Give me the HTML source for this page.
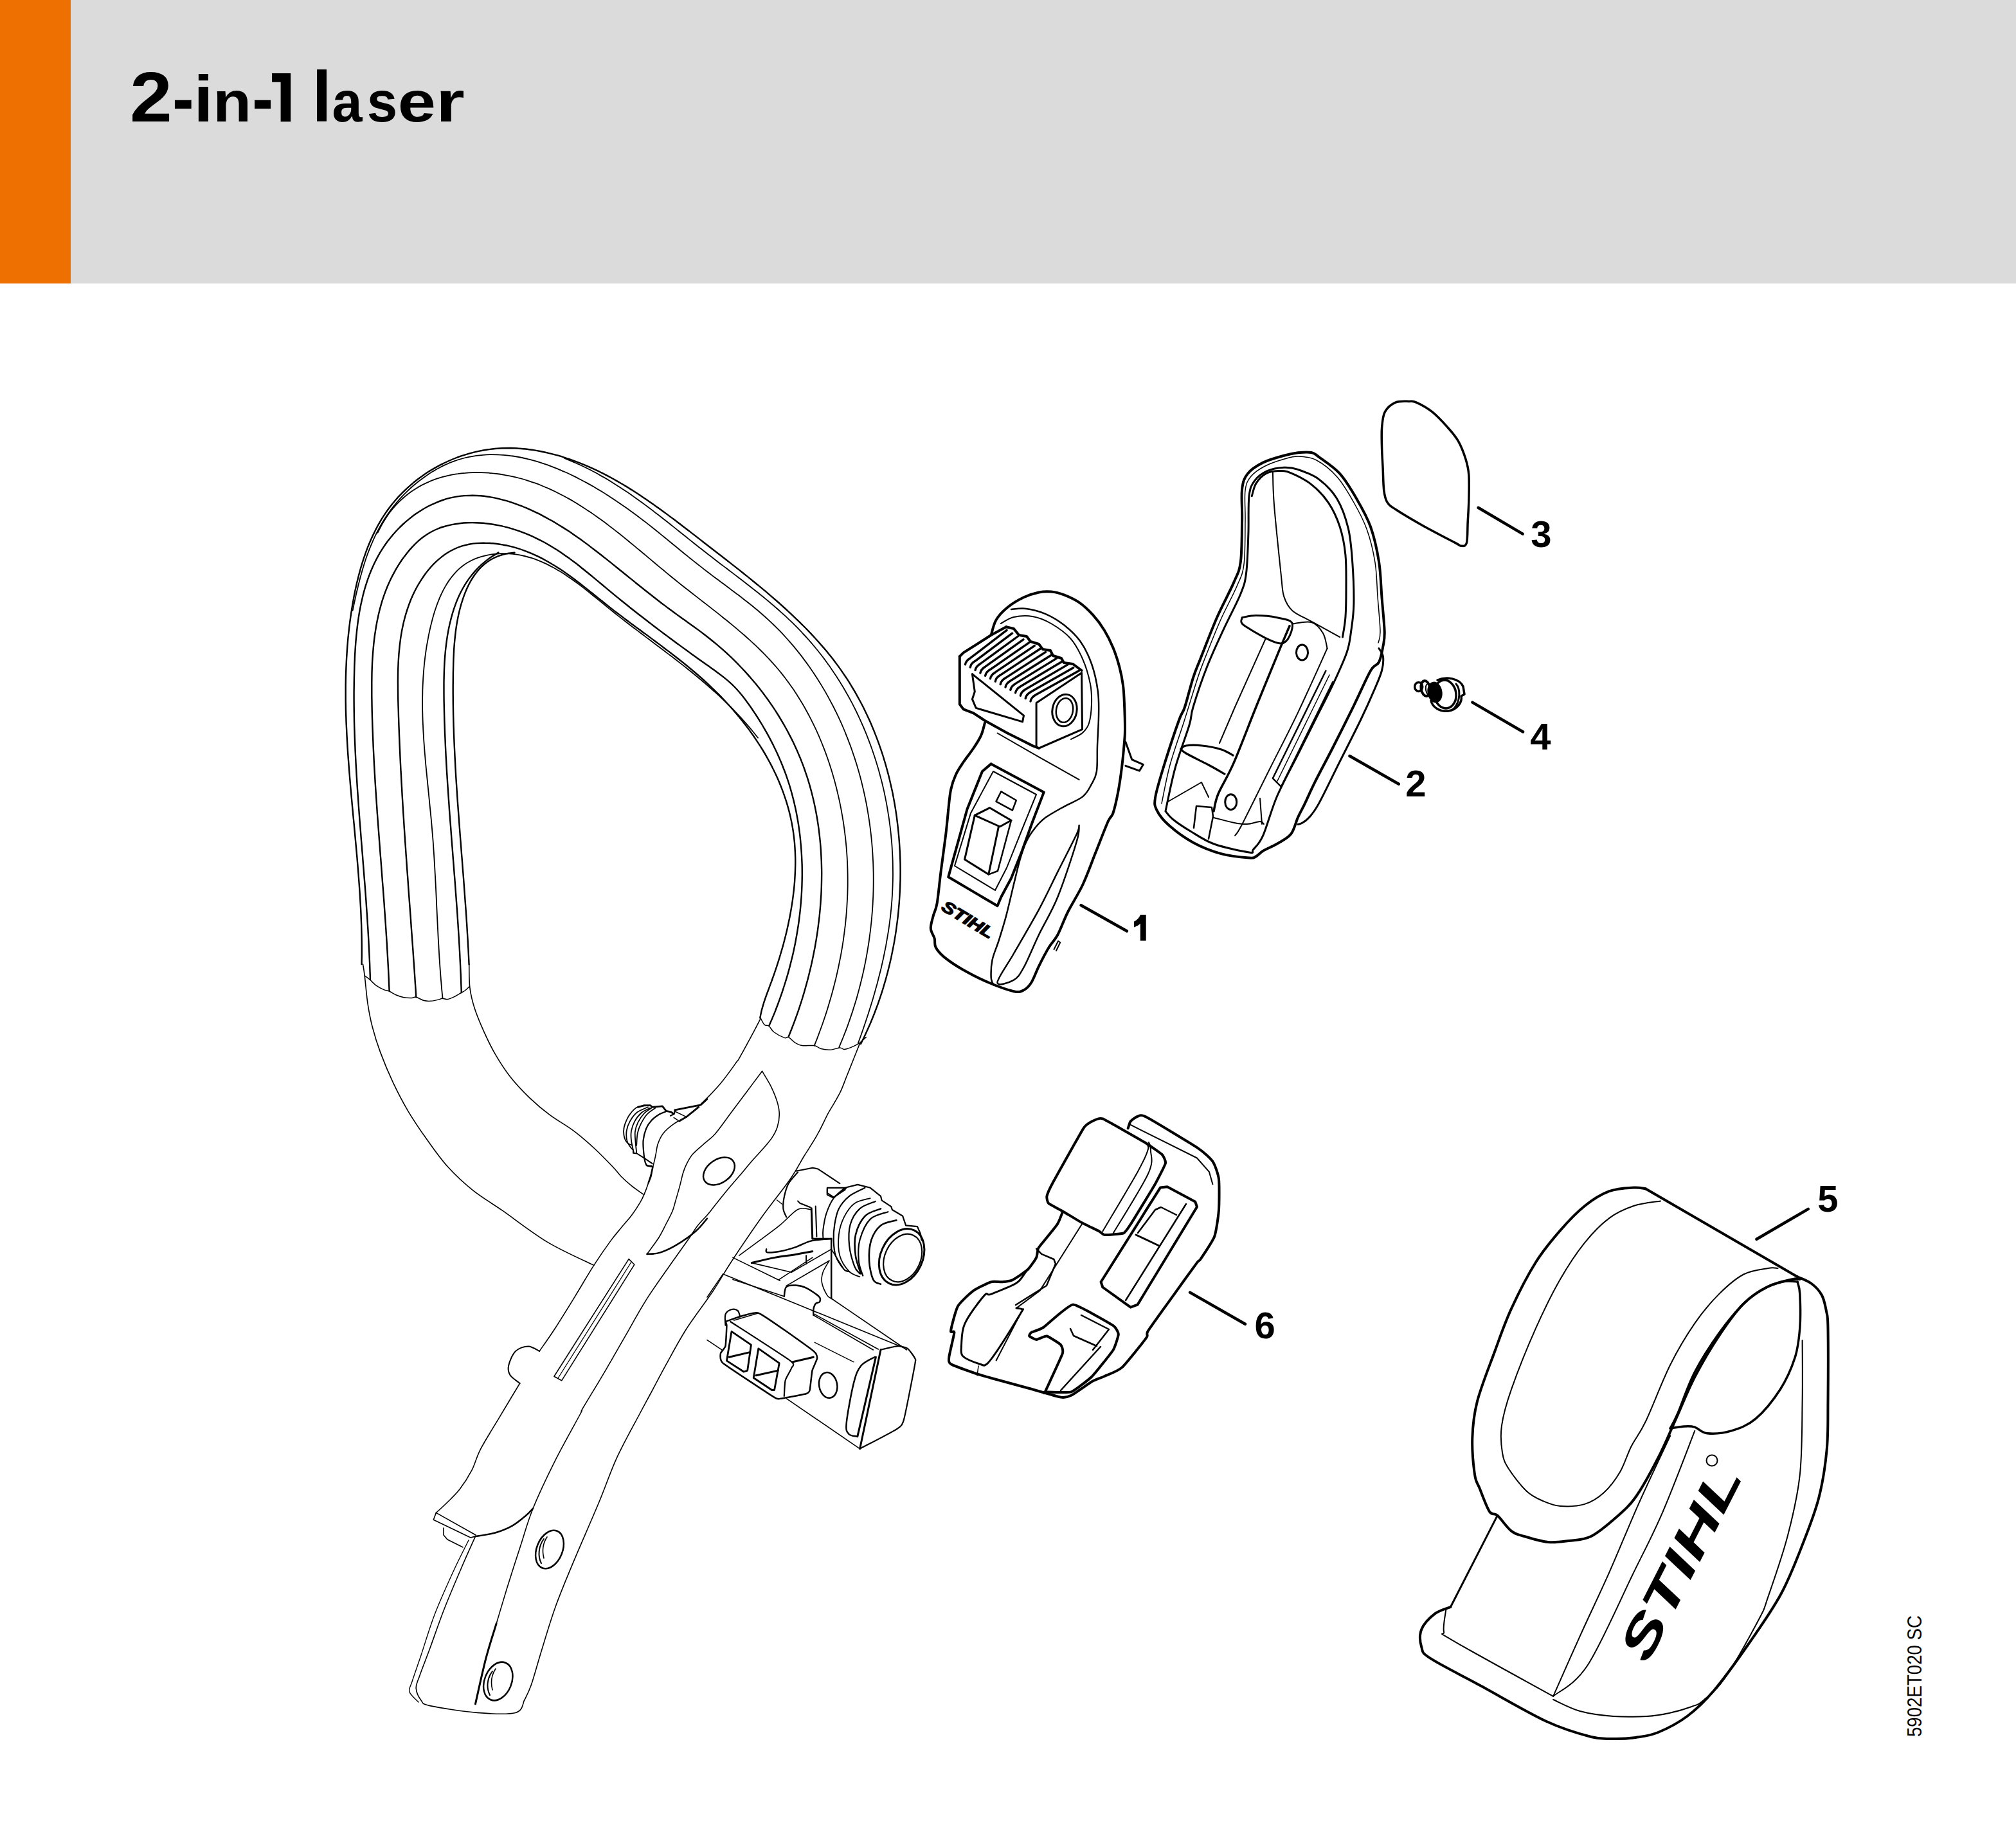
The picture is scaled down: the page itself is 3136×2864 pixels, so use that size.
<!DOCTYPE html>
<html><head><meta charset="utf-8"><style>
html,body{margin:0;padding:0;background:#fff;width:3136px;height:2864px;overflow:hidden;}
#hdr{position:absolute;left:0;top:0;width:3136px;height:441px;background:#dadbda;}
#bar{position:absolute;left:0;top:0;width:110px;height:441px;background:#ed7000;}
#title{position:absolute;left:203px;top:81px;font-family:"Liberation Sans",sans-serif;font-weight:bold;font-size:111px;line-height:140px;transform:scaleX(0.89);color:#000;white-space:nowrap;transform-origin:0 0;}
svg{position:absolute;left:0;top:0;}
.lbl{font-family:"Liberation Sans",sans-serif;font-weight:bold;}
</style></head><body>
<div id="hdr"></div><div id="bar"></div>

<svg width="3136" height="2864" viewBox="0 0 3136 2864" xmlns="http://www.w3.org/2000/svg" fill="none" stroke="#000" stroke-linecap="round" stroke-linejoin="round">
<!-- 05_title.py -->
<path d="M423.1 113.9H452.2V189.2H436.6V127.8H423.1Z" fill="#000" stroke="none"/>
<g font-family="Liberation Sans" font-weight="bold" fill="#000" stroke="none" aria-label="2-in-1 laser"><text transform="matrix(1.1840 0 0 1.0946 202.11 189.20)" font-size="100">2</text><text transform="matrix(1.0118 0 0 1.1092 267.95 191.28)" font-size="100">-</text><text transform="matrix(1.0949 0 0 1.0193 301.34 189.20)" font-size="100">i</text><text transform="matrix(0.9793 0 0 0.8887 331.14 189.20)" font-size="100">n</text><text transform="matrix(0.9843 0 0 1.1092 392.16 191.28)" font-size="100">-</text><text transform="matrix(1.0876 0 0 1.1062 485.59 189.20)" font-size="100">l</text><text transform="matrix(0.8462 0 0 0.8942 516.45 189.41)" font-size="100">a</text><text transform="matrix(0.8531 0 0 0.8925 570.76 189.41)" font-size="100">s</text><text transform="matrix(1.0642 0 0 0.8942 618.65 189.41)" font-size="100">e</text><text transform="matrix(1.1494 0 0 0.8942 678.11 189.20)" font-size="100">r</text></g>
<!-- 10_grip.py -->
<path d="M562.6 1500C562.6 1498 562.7 1491.9 562.8 1487.9C562.8 1483.9 562.8 1479.9 562.8 1475.9C562.8 1471.9 562.8 1467.8 562.7 1463.8C562.7 1459.8 562.6 1455.8 562.5 1451.8C562.4 1447.8 562.3 1443.7 562.2 1439.7C562 1435.7 561.9 1431.7 561.7 1427.7C561.6 1423.7 561.4 1419.6 561.2 1415.6C561 1411.6 560.8 1407.6 560.5 1403.6C560.3 1399.6 560.1 1395.6 559.8 1391.5C559.6 1387.5 559.3 1383.5 559 1379.5C558.7 1375.5 558.4 1371.5 558.1 1367.5C557.8 1363.5 557.5 1359.4 557.2 1355.4C556.9 1351.4 556.5 1347.4 556.2 1343.4C555.9 1339.4 555.5 1335.4 555.2 1331.4C554.8 1327.3 554.5 1323.3 554.1 1319.3C553.7 1315.3 553.4 1311.3 553 1307.3C552.6 1303.3 552.3 1299.3 551.9 1295.2C551.5 1291.2 551.1 1287.2 550.8 1283.2C550.4 1279.2 550 1275.2 549.6 1271.2C549.2 1267.2 548.9 1263.2 548.5 1259.1C548.1 1255.1 547.7 1251.1 547.4 1247.1C547 1243.1 546.6 1239.1 546.3 1235.1C545.9 1231.1 545.6 1227 545.2 1223C544.9 1219 544.5 1215 544.2 1211C543.9 1207 543.5 1203 543.2 1199C542.9 1194.9 542.6 1190.9 542.3 1186.9C542 1182.9 541.7 1178.9 541.4 1174.9C541.1 1170.9 540.9 1166.9 540.6 1162.8C540.4 1158.8 540.1 1154.8 539.9 1150.8C539.7 1146.8 539.4 1142.8 539.3 1138.7C539.1 1134.7 538.9 1130.7 538.7 1126.7C538.5 1122.7 538.4 1118.7 538.3 1114.7C538.1 1110.6 538 1106.6 537.9 1102.6C537.9 1098.6 537.8 1094.6 537.7 1090.5C537.7 1086.5 537.7 1082.5 537.7 1078.5C537.7 1074.5 537.7 1070.5 537.7 1066.4C537.8 1062.4 537.8 1058.4 537.9 1054.4C538 1050.4 538.1 1046.3 538.3 1042.3C538.4 1038.3 538.6 1034.3 538.8 1030.2C539 1026.2 539.2 1022.2 539.5 1018.2C539.7 1014.2 540 1010.1 540.3 1006.1C540.6 1002.1 541 998.1 541.3 994C541.7 990 542.1 986 542.6 981.9C543 977.9 543.5 973.9 544 969.9C544.5 965.8 545.1 961.8 545.7 957.8C546.2 953.7 546.9 949.7 547.5 945.7C548.2 941.7 548.9 937.6 549.6 933.6C550.3 929.6 551.1 925.5 551.9 921.5C552.7 917.5 553.6 913.5 554.5 909.5C555.4 905.5 556.4 901.5 557.4 897.5C558.4 893.5 559.5 889.6 560.6 885.6C561.7 881.7 562.9 877.8 564.1 873.9C565.3 870 566.6 866.2 568 862.3C569.3 858.5 570.7 854.7 572.2 850.9C573.7 847.2 575.3 843.5 576.9 839.8C578.5 836.1 580.2 832.5 582 828.9C583.7 825.3 585.5 821.7 587.5 818.2C589.4 814.7 591.4 811.3 593.4 807.9C595.5 804.5 597.7 801.2 599.9 797.9C602.1 794.6 604.5 791.4 606.9 788.3C609.3 785.1 611.8 782 614.4 779C617 776 619.6 773 622.4 770.2C625.1 767.3 627.9 764.5 630.8 761.8C633.7 759 636.6 756.4 639.7 753.8C642.7 751.2 645.8 748.7 648.9 746.3C652.1 743.8 655.3 741.5 658.6 739.2C661.9 736.9 665.2 734.7 668.6 732.6C672 730.5 675.4 728.5 678.9 726.6C682.4 724.6 686 722.8 689.5 721C693.1 719.3 696.8 717.6 700.4 716C704.1 714.4 707.8 712.9 711.5 711.5C715.3 710.2 719.1 708.9 722.9 707.7C726.7 706.5 730.5 705.3 734.4 704.3C738.2 703.3 742.1 702.4 746 701.6C750 700.8 753.9 700.1 757.8 699.5C761.8 698.9 765.7 698.4 769.7 698C773.7 697.7 777.7 697.4 781.7 697.2C785.7 697.1 789.7 697 793.7 697C797.7 697.1 801.7 697.2 805.7 697.5C809.7 697.7 813.7 698.1 817.7 698.5C821.7 699 825.7 699.5 829.7 700.1C833.7 700.7 837.6 701.4 841.6 702.2C845.6 703 849.5 703.8 853.4 704.8C857.4 705.7 861.3 706.7 865.2 707.8C869 708.9 872.9 710 876.8 711.3C880.6 712.5 884.4 713.7 888.2 715.1C892 716.4 895.7 717.8 899.5 719.3C903.2 720.7 906.9 722.2 910.6 723.8C914.2 725.3 917.9 726.9 921.5 728.6C925.1 730.3 928.7 732 932.3 733.7C935.9 735.5 939.4 737.3 943 739.1C946.5 741 950 742.9 953.5 744.8C957 746.8 960.5 748.7 963.9 750.7C967.4 752.8 970.8 754.8 974.3 756.9C977.7 759 981.1 761.1 984.5 763.3C987.8 765.4 991.2 767.6 994.6 769.8C997.9 772 1001.3 774.3 1004.6 776.5C1007.9 778.8 1011.3 781.1 1014.6 783.4C1017.9 785.8 1021.2 788.1 1024.5 790.5C1027.8 792.8 1031 795.2 1034.3 797.6C1037.6 800 1040.9 802.4 1044.1 804.9C1047.4 807.3 1050.6 809.8 1053.9 812.2C1057.1 814.7 1060.4 817.2 1063.6 819.7C1066.8 822.1 1070.1 824.6 1073.3 827.1C1076.5 829.6 1079.8 832.1 1083 834.6C1086.2 837.2 1089.5 839.7 1092.7 842.2C1095.9 844.7 1099.2 847.2 1102.4 849.7C1105.6 852.2 1108.9 854.7 1112.1 857.2C1115.3 859.7 1118.6 862.3 1121.8 864.8C1125 867.3 1128.3 869.8 1131.5 872.3C1134.7 874.8 1138 877.3 1141.2 879.9C1144.4 882.4 1147.6 884.9 1150.8 887.4C1154 890 1157.2 892.5 1160.4 895.1C1163.6 897.6 1166.7 900.2 1169.9 902.7C1173.1 905.3 1176.2 907.9 1179.3 910.4C1182.5 913 1185.6 915.6 1188.7 918.2C1191.8 920.8 1194.9 923.4 1198 926.1C1201.1 928.7 1204.1 931.3 1207.2 934C1210.2 936.6 1213.2 939.3 1216.2 942C1219.2 944.7 1222.2 947.4 1225.1 950.1C1228.1 952.8 1231 955.5 1233.9 958.3C1236.8 961 1239.7 963.8 1242.6 966.6C1245.4 969.4 1248.3 972.2 1251.1 975C1253.9 977.8 1256.6 980.7 1259.4 983.6C1262.1 986.4 1264.8 989.3 1267.5 992.2C1270.2 995.2 1272.8 998.1 1275.4 1001.1C1278 1004 1280.6 1007 1283.2 1010C1285.7 1013.1 1288.2 1016.1 1290.7 1019.2C1293.1 1022.2 1295.6 1025.3 1298 1028.5C1300.4 1031.6 1302.7 1034.8 1305 1037.9C1307.3 1041.1 1309.6 1044.4 1311.8 1047.6C1314 1050.9 1316.2 1054.1 1318.4 1057.4C1320.5 1060.8 1322.6 1064.1 1324.6 1067.5C1326.7 1070.8 1328.7 1074.2 1330.7 1077.7C1332.6 1081.1 1334.6 1084.5 1336.4 1088C1338.3 1091.5 1340.2 1095 1342 1098.5C1343.8 1102.1 1345.5 1105.6 1347.2 1109.2C1349 1112.8 1350.6 1116.4 1352.3 1120C1353.9 1123.7 1355.5 1127.3 1357 1131C1358.6 1134.7 1360.1 1138.4 1361.5 1142.1C1363 1145.8 1364.4 1149.5 1365.8 1153.3C1367.2 1157 1368.5 1160.8 1369.8 1164.6C1371.1 1168.4 1372.4 1172.2 1373.6 1176C1374.8 1179.9 1375.9 1183.7 1377.1 1187.6C1378.2 1191.4 1379.3 1195.3 1380.3 1199.2C1381.4 1203.1 1382.4 1207 1383.4 1211C1384.3 1214.9 1385.2 1218.8 1386.1 1222.8C1387 1226.7 1387.9 1230.7 1388.7 1234.6C1389.5 1238.6 1390.2 1242.6 1390.9 1246.6C1391.7 1250.6 1392.3 1254.6 1393 1258.6C1393.6 1262.6 1394.2 1266.7 1394.8 1270.7C1395.3 1274.7 1395.8 1278.8 1396.3 1282.8C1396.8 1286.9 1397.2 1290.9 1397.6 1295C1398 1299 1398.4 1303.1 1398.7 1307.2C1399 1311.2 1399.3 1315.3 1399.5 1319.4C1399.8 1323.5 1400 1327.5 1400.1 1331.6C1400.3 1335.7 1400.4 1339.8 1400.5 1343.9C1400.5 1348 1400.6 1352.1 1400.6 1356.1C1400.6 1360.2 1400.5 1364.3 1400.5 1368.4C1400.4 1372.5 1400.2 1376.6 1400.1 1380.7C1399.9 1384.7 1399.7 1388.8 1399.5 1392.9C1399.2 1397 1399 1401 1398.7 1405.1C1398.3 1409.2 1398 1413.2 1397.6 1417.3C1397.2 1421.3 1396.8 1425.4 1396.3 1429.4C1395.8 1433.5 1395.3 1437.5 1394.7 1441.6C1394.2 1445.6 1393.6 1449.6 1393 1453.6C1392.3 1457.6 1391.7 1461.6 1391 1465.6C1390.3 1469.6 1389.5 1473.6 1388.7 1477.6C1388 1481.5 1387.1 1485.5 1386.3 1489.4C1385.4 1493.4 1384.5 1497.3 1383.6 1501.2C1382.6 1505.1 1381.7 1509 1380.7 1512.9C1379.6 1516.8 1378.6 1520.7 1377.5 1524.6C1376.4 1528.4 1375.3 1532.3 1374.1 1536.1C1373 1539.9 1371.8 1543.7 1370.5 1547.5C1369.3 1551.3 1368 1555 1366.7 1558.8C1365.4 1562.5 1364 1566.3 1362.6 1570C1361.3 1573.7 1359.8 1577.4 1358.4 1581C1356.9 1584.7 1355.4 1588.4 1353.9 1592C1352.3 1595.6 1350.7 1599.2 1349.1 1602.8C1347.5 1606.3 1345.9 1609.9 1344.2 1613.4C1342.5 1616.9 1339.9 1622.1 1339 1623.9" stroke-width="2.4" fill="none"/>
<path d="M548.6 949.8C549.1 947.9 550.3 941.9 551.1 937.9C552 934 552.8 930 553.7 926.1C554.6 922.1 555.5 918.2 556.5 914.2C557.4 910.3 558.4 906.4 559.4 902.5C560.4 898.6 561.5 894.7 562.6 890.8C563.7 886.9 564.8 883 566 879.2C567.2 875.4 568.4 871.5 569.7 867.7C571.1 863.9 572.4 860.2 573.9 856.4C575.3 852.7 576.8 848.9 578.4 845.3C580 841.6 581.6 837.9 583.3 834.3C585.1 830.7 586.9 827.1 588.8 823.5C590.7 819.9 592.7 816.4 594.7 812.9C596.8 809.5 599 806 601.3 802.6C603.6 799.2 605.9 795.9 608.4 792.6C610.9 789.3 613.5 786 616.2 782.8C618.9 779.6 621.7 776.5 624.5 773.4C627.4 770.3 630.4 767.3 633.4 764.4C636.4 761.5 639.5 758.6 642.7 755.8C645.9 753.1 649.2 750.4 652.5 747.8C655.8 745.2 659.2 742.8 662.6 740.4C666 738 669.5 735.7 673 733.6C676.6 731.5 680.1 729.4 683.8 727.5C687.4 725.6 691 723.8 694.7 722.2C698.3 720.5 702 719 705.8 717.7C709.5 716.3 713.2 715.1 717 714C720.7 712.9 724.5 712 728.3 711.2C732.1 710.4 735.9 709.7 739.7 709.1C743.5 708.6 747.3 708.1 751.2 707.8C755 707.5 758.9 707.3 762.7 707.2C766.6 707.2 770.4 707.2 774.3 707.3C778.2 707.5 782.1 707.8 786 708.1C789.8 708.5 793.7 709 797.6 709.5C801.5 710.1 805.4 710.8 809.3 711.5C813.2 712.3 817.1 713.1 821 714.1C824.9 715 828.8 716.1 832.6 717.2C836.5 718.3 840.4 719.5 844.3 720.8C848.1 722.1 852 723.4 855.8 724.8C859.7 726.3 863.5 727.8 867.4 729.3C871.2 730.9 875 732.6 878.8 734.3C882.6 736 886.4 737.7 890.2 739.5C894 741.4 897.7 743.2 901.4 745.2C905.2 747.1 908.9 749.1 912.6 751.1C916.3 753.1 920 755.2 923.6 757.3C927.3 759.5 930.9 761.6 934.5 763.8C938.1 766 941.7 768.2 945.2 770.5C948.8 772.8 952.3 775.1 955.8 777.4C959.2 779.7 962.7 782 966.1 784.4C969.5 786.8 972.9 789.1 976.3 791.5C979.6 793.9 983 796.4 986.2 798.8C989.5 801.2 992.8 803.6 996 806.1C999.2 808.5 1002.4 811 1005.6 813.4C1008.7 815.9 1011.9 818.4 1015 820.8C1018.1 823.3 1021.2 825.8 1024.3 828.3C1027.4 830.8 1030.4 833.3 1033.5 835.7C1036.6 838.2 1039.6 840.7 1042.6 843.2C1045.7 845.7 1048.7 848.2 1051.8 850.7C1054.8 853.2 1057.9 855.7 1060.9 858.2C1063.9 860.7 1067 863.2 1070.1 865.6C1073.1 868.1 1076.2 870.6 1079.3 873.1C1082.4 875.5 1085.5 878 1088.6 880.4C1091.7 882.9 1094.9 885.3 1098 887.8C1101.2 890.2 1104.4 892.6 1107.6 895.1C1110.8 897.5 1114.1 899.9 1117.3 902.3C1120.5 904.7 1123.8 907.2 1127.1 909.6C1130.3 912 1133.6 914.4 1136.8 916.9C1140.1 919.3 1143.4 921.8 1146.6 924.3C1149.9 926.7 1153.1 929.2 1156.3 931.7C1159.6 934.2 1162.8 936.7 1166 939.3C1169.2 941.8 1172.4 944.4 1175.5 947C1178.7 949.6 1181.8 952.3 1184.9 955C1187.9 957.6 1191 960.3 1194 963.1C1197 965.9 1200 968.7 1202.9 971.5C1205.9 974.3 1208.7 977.2 1211.6 980.1C1214.4 983 1217.3 986 1220 989C1222.8 992 1225.5 995 1228.2 998.1C1230.9 1001.1 1233.5 1004.2 1236.1 1007.4C1238.7 1010.5 1241.3 1013.7 1243.8 1016.9C1246.3 1020.1 1248.8 1023.3 1251.2 1026.6C1253.7 1029.8 1256 1033.1 1258.4 1036.5C1260.7 1039.8 1263.1 1043.1 1265.3 1046.5C1267.6 1049.9 1269.8 1053.3 1272 1056.7C1274.2 1060.2 1276.3 1063.6 1278.4 1067.1C1280.5 1070.6 1282.6 1074.1 1284.6 1077.6C1286.6 1081.1 1288.6 1084.7 1290.5 1088.3C1292.4 1091.8 1294.3 1095.4 1296.2 1099C1298 1102.7 1299.8 1106.3 1301.6 1109.9C1303.4 1113.6 1305.1 1117.3 1306.8 1120.9C1308.4 1124.6 1310.1 1128.3 1311.7 1132C1313.3 1135.8 1314.8 1139.5 1316.3 1143.3C1317.8 1147 1319.3 1150.8 1320.7 1154.6C1322.2 1158.3 1323.6 1162.1 1324.9 1166C1326.2 1169.8 1327.5 1173.6 1328.8 1177.4C1330.1 1181.3 1331.3 1185.1 1332.5 1189C1333.7 1192.9 1334.8 1196.7 1335.9 1200.6C1337 1204.5 1338.1 1208.4 1339.1 1212.3C1340.1 1216.2 1341.1 1220.2 1342 1224.1C1343 1228 1343.9 1232 1344.7 1235.9C1345.6 1239.9 1346.4 1243.9 1347.2 1247.8C1348 1251.8 1348.7 1255.8 1349.4 1259.8C1350.1 1263.8 1350.7 1267.8 1351.4 1271.8C1352 1275.8 1352.6 1279.8 1353.1 1283.8C1353.6 1287.8 1354.2 1291.8 1354.6 1295.9C1355.1 1299.9 1355.5 1303.9 1355.9 1308C1356.3 1312 1356.6 1316 1356.9 1320.1C1357.2 1324.1 1357.5 1328.2 1357.7 1332.2C1357.9 1336.3 1358.1 1340.3 1358.3 1344.4C1358.4 1348.5 1358.5 1352.5 1358.6 1356.6C1358.7 1360.7 1358.7 1364.7 1358.7 1368.8C1358.7 1372.8 1358.7 1376.9 1358.6 1381C1358.5 1385 1358.4 1389.1 1358.3 1393.2C1358.1 1397.2 1357.9 1401.3 1357.7 1405.4C1357.5 1409.4 1357.2 1413.5 1356.9 1417.5C1356.6 1421.6 1356.2 1425.6 1355.9 1429.7C1355.5 1433.7 1355.1 1437.8 1354.6 1441.8C1354.2 1445.9 1353.7 1449.9 1353.1 1453.9C1352.6 1458 1352.1 1462 1351.5 1466C1350.9 1470 1350.2 1474.1 1349.5 1478.1C1348.9 1482.1 1348.2 1486.1 1347.4 1490.1C1346.7 1494.1 1345.9 1498.1 1345.1 1502C1344.2 1506 1343.4 1510 1342.5 1514C1341.6 1517.9 1340.7 1521.9 1339.7 1525.8C1338.8 1529.8 1337.8 1533.7 1336.7 1537.6C1335.7 1541.5 1334.6 1545.5 1333.5 1549.4C1332.4 1553.3 1331.3 1557.2 1330.1 1561C1328.9 1564.9 1327.7 1568.8 1326.5 1572.6C1325.2 1576.5 1323.9 1580.3 1322.6 1584.1C1321.3 1588 1319.9 1591.8 1318.6 1595.6C1317.2 1599.4 1315.8 1603.1 1314.3 1606.9C1312.8 1610.7 1311.4 1614.4 1309.8 1618.2C1308.3 1621.9 1305.9 1627.5 1305.2 1629.3" stroke-width="1.8" fill="none"/>
<path d="M587.6 828.7C588.7 826.6 591.8 820.1 594.1 816C596.4 812 598.8 808.1 601.2 804.4C603.7 800.7 606.3 797.2 609 793.8C611.7 790.4 614.5 787.2 617.4 784.2C620.2 781.1 623.2 778.2 626.3 775.5C629.3 772.8 632.5 770.2 635.7 767.7C638.9 765.3 642.2 763 645.6 760.9C648.9 758.8 652.3 756.8 655.8 754.9C659.3 753.1 662.9 751.3 666.5 749.8C670.1 748.2 673.8 746.7 677.5 745.4C681.2 744.1 685 743 688.8 741.9C692.6 740.8 696.5 739.9 700.3 739.1C704.2 738.3 708.1 737.6 712.1 737.1C716 736.5 720 736.1 724 735.8C728 735.4 732 735.2 736 735.1C740 735 744.1 735 748.1 735.1C752.2 735.2 756.2 735.4 760.3 735.7C764.3 736.1 768.4 736.5 772.4 737C776.4 737.5 780.5 738.1 784.5 738.8C788.5 739.5 792.5 740.3 796.5 741.1C800.4 742 804.4 743 808.3 744C812.2 745 816.1 746.2 820 747.4C823.8 748.6 827.7 749.8 831.4 751.2C835.2 752.5 839 754 842.7 755.5C846.4 757 850.1 758.5 853.7 760.1C857.4 761.8 861 763.5 864.6 765.2C868.2 767 871.8 768.8 875.3 770.7C878.8 772.5 882.3 774.5 885.8 776.4C889.3 778.4 892.8 780.5 896.2 782.5C899.6 784.6 903 786.8 906.4 788.9C909.8 791.1 913.2 793.3 916.5 795.6C919.9 797.8 923.2 800.2 926.5 802.5C929.8 804.8 933.1 807.2 936.4 809.6C939.7 812 943 814.4 946.2 816.9C949.5 819.4 952.7 821.9 955.9 824.4C959.2 826.9 962.4 829.5 965.6 832C968.8 834.6 972 837.2 975.2 839.8C978.4 842.4 981.5 845 984.7 847.6C987.9 850.2 991.1 852.9 994.2 855.5C997.4 858.1 1000.6 860.8 1003.7 863.4C1006.9 866.1 1010.1 868.8 1013.2 871.4C1016.4 874.1 1019.6 876.7 1022.7 879.4C1025.9 882 1029.1 884.7 1032.3 887.3C1035.4 889.9 1038.6 892.6 1041.8 895.2C1045 897.8 1048.2 900.4 1051.4 903C1054.6 905.6 1057.8 908.1 1061 910.7C1064.2 913.3 1067.5 915.8 1070.7 918.3C1073.9 920.9 1077.1 923.4 1080.4 925.9C1083.6 928.4 1086.8 930.9 1090 933.4C1093.3 935.9 1096.5 938.4 1099.7 940.9C1102.9 943.4 1106.1 945.9 1109.3 948.4C1112.5 950.9 1115.7 953.4 1118.8 955.9C1122 958.5 1125.2 961 1128.3 963.5C1131.4 966 1134.6 968.6 1137.7 971.1C1140.8 973.7 1143.9 976.3 1146.9 978.9C1150 981.4 1153 984.1 1156.1 986.7C1159.1 989.3 1162.1 992 1165 994.6C1168 997.3 1170.9 1000 1173.8 1002.7C1176.7 1005.4 1179.6 1008.2 1182.4 1011C1185.3 1013.8 1188.1 1016.6 1190.8 1019.4C1193.6 1022.3 1196.3 1025.2 1199 1028.1C1201.7 1031 1204.3 1034 1206.9 1037C1209.5 1040 1212.1 1043 1214.6 1046.1C1217.1 1049.2 1219.5 1052.3 1221.9 1055.5C1224.3 1058.7 1226.7 1061.9 1229 1065.2C1231.4 1068.4 1233.6 1071.7 1235.9 1075C1238.1 1078.4 1240.3 1081.7 1242.4 1085.2C1244.5 1088.6 1246.6 1092 1248.7 1095.5C1250.7 1099 1252.7 1102.5 1254.6 1106C1256.6 1109.6 1258.5 1113.1 1260.4 1116.8C1262.2 1120.4 1264 1124 1265.8 1127.7C1267.6 1131.3 1269.3 1135 1271 1138.7C1272.7 1142.5 1274.3 1146.2 1275.9 1150C1277.5 1153.7 1279 1157.5 1280.5 1161.4C1282 1165.2 1283.5 1169 1284.9 1172.9C1286.3 1176.7 1287.6 1180.6 1289 1184.5C1290.3 1188.4 1291.5 1192.3 1292.8 1196.3C1294 1200.2 1295.2 1204.1 1296.3 1208.1C1297.5 1212.1 1298.6 1216.1 1299.6 1220C1300.7 1224 1301.7 1228 1302.6 1232.1C1303.6 1236.1 1304.5 1240.1 1305.4 1244.1C1306.3 1248.2 1307.1 1252.2 1307.9 1256.3C1308.7 1260.3 1309.4 1264.4 1310.1 1268.4C1310.8 1272.5 1311.5 1276.6 1312.1 1280.6C1312.7 1284.7 1313.3 1288.8 1313.8 1292.8C1314.3 1296.9 1314.8 1301 1315.3 1305C1315.7 1309.1 1316.1 1313.2 1316.5 1317.3C1316.8 1321.3 1317.1 1325.4 1317.4 1329.5C1317.7 1333.5 1317.9 1337.6 1318.1 1341.7C1318.3 1345.7 1318.4 1349.8 1318.5 1353.9C1318.6 1357.9 1318.7 1362 1318.7 1366.1C1318.7 1370.1 1318.7 1374.2 1318.7 1378.2C1318.6 1382.3 1318.5 1386.3 1318.4 1390.4C1318.2 1394.5 1318.1 1398.5 1317.8 1402.5C1317.6 1406.6 1317.4 1410.6 1317.1 1414.7C1316.8 1418.7 1316.5 1422.7 1316.1 1426.8C1315.7 1430.8 1315.3 1434.8 1314.9 1438.8C1314.4 1442.9 1313.9 1446.9 1313.4 1450.9C1312.9 1454.9 1312.3 1458.9 1311.8 1462.9C1311.2 1466.9 1310.5 1470.9 1309.9 1474.9C1309.2 1478.9 1308.5 1482.9 1307.8 1486.9C1307 1490.8 1306.2 1494.8 1305.4 1498.8C1304.6 1502.7 1303.8 1506.7 1302.9 1510.6C1302 1514.6 1301.1 1518.5 1300.2 1522.5C1299.2 1526.4 1298.2 1530.4 1297.2 1534.3C1296.2 1538.2 1295.2 1542.1 1294.1 1546C1293 1549.9 1291.9 1553.8 1290.7 1557.7C1289.6 1561.6 1288.4 1565.5 1287.2 1569.4C1286 1573.3 1284.8 1577.1 1283.5 1581C1282.2 1584.8 1280.9 1588.7 1279.6 1592.5C1278.2 1596.4 1276.8 1600.2 1275.4 1604C1274 1607.8 1272.6 1611.6 1271.2 1615.4C1269.7 1619.2 1267.4 1624.9 1266.7 1626.8" stroke-width="1.8" fill="none"/>
<path d="M575.9 1523.6C575.9 1521.5 575.7 1515.2 575.5 1511.1C575.4 1506.9 575.2 1502.8 575.1 1498.7C574.9 1494.5 574.7 1490.4 574.5 1486.3C574.3 1482.2 574.2 1478.1 573.9 1474C573.7 1469.9 573.5 1465.8 573.3 1461.7C573.1 1457.6 572.8 1453.5 572.6 1449.4C572.4 1445.4 572.1 1441.3 571.8 1437.2C571.6 1433.2 571.3 1429.1 571.1 1425.1C570.8 1421 570.5 1417 570.2 1413C569.9 1408.9 569.7 1404.9 569.4 1400.9C569.1 1396.9 568.8 1392.8 568.5 1388.8C568.2 1384.8 567.9 1380.8 567.6 1376.8C567.3 1372.8 566.9 1368.8 566.6 1364.8C566.3 1360.8 566 1356.8 565.7 1352.8C565.4 1348.8 565 1344.8 564.7 1340.8C564.4 1336.8 564.1 1332.8 563.8 1328.9C563.4 1324.9 563.1 1320.9 562.8 1316.9C562.5 1312.9 562.1 1309 561.8 1305C561.5 1301 561.2 1297 560.9 1293C560.6 1289.1 560.3 1285.1 559.9 1281.1C559.6 1277.1 559.3 1273.2 559 1269.2C558.7 1265.2 558.4 1261.2 558.1 1257.3C557.8 1253.3 557.5 1249.3 557.3 1245.3C557 1241.4 556.7 1237.4 556.4 1233.4C556.1 1229.4 555.9 1225.4 555.6 1221.5C555.4 1217.5 555.1 1213.5 554.9 1209.5C554.6 1205.5 554.4 1201.5 554.2 1197.5C553.9 1193.5 553.7 1189.5 553.5 1185.5C553.3 1181.5 553.1 1177.5 552.9 1173.5C552.7 1169.5 552.5 1165.5 552.4 1161.4C552.2 1157.4 552 1153.4 551.9 1149.4C551.7 1145.3 551.6 1141.3 551.5 1137.3C551.3 1133.2 551.2 1129.2 551.1 1125.1C551 1121.1 550.9 1117 550.9 1113C550.8 1108.9 550.8 1104.8 550.7 1100.8C550.7 1096.7 550.6 1092.6 550.6 1088.5C550.6 1084.4 550.6 1080.3 550.6 1076.2C550.7 1072.1 550.7 1068 550.8 1063.9C550.8 1059.7 550.9 1055.6 551 1051.5C551.1 1047.3 551.2 1043.2 551.3 1039C551.4 1034.9 551.6 1030.7 551.8 1026.5C551.9 1022.4 552.1 1018.2 552.4 1014.1C552.6 1009.9 552.9 1005.7 553.2 1001.6C553.5 997.4 553.9 993.3 554.3 989.2C554.7 985 555.1 980.9 555.6 976.8C556.1 972.7 556.6 968.6 557.2 964.5C557.8 960.4 558.4 956.4 559.1 952.3C559.9 948.3 560.6 944.3 561.4 940.3C562.3 936.3 563.2 932.3 564.1 928.4C565.1 924.5 566.1 920.6 567.2 916.7C568.3 912.8 569.5 909 570.8 905.2C572 901.4 573.4 897.7 574.8 893.9C576.2 890.2 577.7 886.5 579.3 882.9C580.9 879.3 582.6 875.7 584.4 872.2C586.2 868.6 588.1 865.2 590 861.7C592 858.3 594.1 854.9 596.3 851.6C598.5 848.3 600.8 845 603.2 841.8C605.6 838.6 608.1 835.5 610.7 832.4C613.3 829.4 616 826.4 618.8 823.5C621.6 820.6 624.5 817.7 627.5 815C630.5 812.3 633.5 809.6 636.7 807.1C639.8 804.6 643 802.1 646.3 799.8C649.6 797.5 652.9 795.3 656.4 793.2C659.8 791.1 663.3 789.2 666.8 787.3C670.4 785.5 674 783.8 677.6 782.3C681.2 780.7 685 779.3 688.7 778C692.4 776.8 696.2 775.7 700 774.7C703.9 773.8 707.7 773 711.6 772.4C715.5 771.8 719.4 771.4 723.3 771.1C727.3 770.8 731.2 770.7 735.2 770.7C739.2 770.8 743.2 771 747.2 771.3C751.2 771.6 755.2 772.1 759.2 772.7C763.2 773.3 767.2 774.1 771.2 774.9C775.2 775.8 779.2 776.8 783.2 777.9C787.2 778.9 791.2 780.1 795.1 781.4C799.1 782.7 803 784.1 806.9 785.6C810.8 787 814.7 788.6 818.6 790.2C822.4 791.9 826.3 793.6 830 795.3C833.8 797.1 837.6 799 841.3 800.8C845 802.7 848.6 804.7 852.2 806.7C855.8 808.6 859.4 810.7 862.9 812.7C866.4 814.8 869.9 816.9 873.3 819.1C876.8 821.2 880.2 823.4 883.5 825.6C886.9 827.8 890.2 830.1 893.5 832.4C896.8 834.7 900.1 837 903.4 839.3C906.6 841.7 909.8 844 913 846.4C916.2 848.8 919.4 851.2 922.6 853.7C925.8 856.1 928.9 858.5 932.1 861C935.2 863.5 938.4 865.9 941.5 868.4C944.6 870.9 947.8 873.4 950.9 875.9C954 878.4 957.1 880.9 960.3 883.5C963.4 886 966.5 888.5 969.6 891C972.7 893.5 975.9 896.1 979 898.6C982.1 901.1 985.3 903.6 988.4 906.2C991.5 908.7 994.7 911.2 997.8 913.7C1001 916.3 1004.1 918.8 1007.3 921.3C1010.5 923.8 1013.6 926.3 1016.8 928.8C1020 931.3 1023.2 933.7 1026.4 936.2C1029.6 938.7 1032.8 941.1 1036.1 943.6C1039.3 946 1042.6 948.4 1045.8 950.8C1049.1 953.3 1052.4 955.6 1055.7 958C1059 960.4 1062.3 962.8 1065.6 965.1C1068.9 967.5 1072.2 969.8 1075.5 972.2C1078.8 974.6 1082.1 977 1085.4 979.4C1088.7 981.8 1092 984.2 1095.2 986.7C1098.4 989.1 1101.6 991.6 1104.8 994.2C1108 996.7 1111.1 999.3 1114.2 1001.9C1117.3 1004.5 1120.4 1007.2 1123.5 1009.8C1126.5 1012.5 1129.5 1015.3 1132.5 1018C1135.4 1020.8 1138.4 1023.6 1141.3 1026.4C1144.2 1029.3 1147 1032.1 1149.8 1035C1152.6 1037.9 1155.4 1040.9 1158.2 1043.9C1160.9 1046.8 1163.6 1049.9 1166.3 1052.9C1168.9 1055.9 1171.6 1059 1174.1 1062.1C1176.7 1065.2 1179.3 1068.4 1181.8 1071.5C1184.3 1074.7 1186.7 1077.9 1189.1 1081.1C1191.5 1084.4 1193.9 1087.6 1196.2 1090.9C1198.5 1094.2 1200.8 1097.5 1203.1 1100.9C1205.3 1104.2 1207.5 1107.6 1209.6 1111C1211.8 1114.4 1213.9 1117.9 1215.9 1121.3C1218 1124.8 1220 1128.3 1221.9 1131.8C1223.9 1135.3 1225.8 1138.8 1227.6 1142.4C1229.5 1145.9 1231.3 1149.5 1233.1 1153.1C1234.8 1156.7 1236.5 1160.4 1238.2 1164C1239.9 1167.7 1241.5 1171.4 1243 1175.1C1244.6 1178.8 1246.1 1182.5 1247.5 1186.2C1249 1190 1250.4 1193.7 1251.7 1197.5C1253 1201.3 1254.3 1205.1 1255.6 1208.9C1256.8 1212.7 1258 1216.6 1259.1 1220.4C1260.2 1224.3 1261.3 1228.2 1262.3 1232C1263.3 1235.9 1264.3 1239.8 1265.2 1243.8C1266.1 1247.7 1267 1251.6 1267.8 1255.6C1268.6 1259.5 1269.4 1263.5 1270.1 1267.5C1270.8 1271.4 1271.5 1275.4 1272.1 1279.4C1272.7 1283.4 1273.3 1287.4 1273.8 1291.4C1274.3 1295.5 1274.8 1299.5 1275.2 1303.5C1275.7 1307.6 1276 1311.6 1276.4 1315.7C1276.7 1319.7 1277 1323.8 1277.2 1327.8C1277.4 1331.9 1277.6 1336 1277.8 1340C1277.9 1344.1 1278 1348.2 1278.1 1352.3C1278.2 1356.4 1278.2 1360.5 1278.1 1364.5C1278.1 1368.6 1278 1372.7 1277.9 1376.8C1277.8 1380.9 1277.7 1385 1277.5 1389.1C1277.3 1393.2 1277 1397.3 1276.7 1401.4C1276.5 1405.4 1276.1 1409.5 1275.8 1413.6C1275.4 1417.7 1275 1421.8 1274.6 1425.9C1274.1 1429.9 1273.7 1434 1273.1 1438.1C1272.6 1442.1 1272.1 1446.2 1271.5 1450.2C1270.9 1454.3 1270.2 1458.3 1269.6 1462.4C1268.9 1466.4 1268.2 1470.4 1267.5 1474.5C1266.7 1478.5 1265.9 1482.5 1265.1 1486.5C1264.3 1490.5 1263.5 1494.5 1262.6 1498.4C1261.7 1502.4 1260.8 1506.4 1259.8 1510.3C1258.9 1514.3 1257.9 1518.2 1256.9 1522.1C1255.9 1526 1254.8 1530 1253.7 1533.8C1252.6 1537.7 1251.5 1541.6 1250.4 1545.5C1249.2 1549.3 1248.1 1553.2 1246.9 1557C1245.7 1560.8 1244.4 1564.6 1243.2 1568.4C1241.9 1572.2 1240.6 1575.9 1239.3 1579.7C1237.9 1583.4 1236.6 1587.1 1235.2 1590.8C1233.8 1594.5 1232.4 1598.2 1231 1601.8C1229.5 1605.5 1227.3 1610.9 1226.6 1612.7" stroke-width="2.4" fill="none"/>
<path d="M605.6 1541.4C605.5 1539.3 605.2 1533.1 605 1529C604.9 1524.9 604.7 1520.8 604.5 1516.7C604.3 1512.6 604.1 1508.5 603.9 1504.4C603.7 1500.3 603.4 1496.3 603.2 1492.2C603 1488.1 602.7 1484 602.5 1480C602.3 1475.9 602 1471.8 601.8 1467.8C601.5 1463.7 601.3 1459.6 601 1455.6C600.7 1451.5 600.5 1447.5 600.2 1443.5C599.9 1439.4 599.7 1435.4 599.4 1431.3C599.1 1427.3 598.8 1423.3 598.5 1419.2C598.2 1415.2 597.9 1411.2 597.7 1407.2C597.4 1403.1 597.1 1399.1 596.8 1395.1C596.5 1391.1 596.2 1387.1 595.9 1383.1C595.6 1379 595.2 1375 594.9 1371C594.6 1367 594.3 1363 594 1359C593.7 1355 593.4 1351 593.1 1347C592.8 1343 592.5 1339 592.2 1335C591.8 1331 591.5 1327 591.2 1323C590.9 1318.9 590.6 1314.9 590.3 1310.9C590 1306.9 589.7 1302.9 589.4 1298.9C589.1 1294.9 588.8 1290.9 588.5 1286.9C588.2 1282.9 587.9 1278.9 587.6 1274.9C587.3 1270.9 587 1266.9 586.7 1262.9C586.5 1258.9 586.2 1254.9 585.9 1250.9C585.6 1246.8 585.4 1242.8 585.1 1238.8C584.8 1234.8 584.6 1230.8 584.3 1226.8C584 1222.7 583.8 1218.7 583.5 1214.7C583.3 1210.7 583.1 1206.6 582.8 1202.6C582.6 1198.6 582.4 1194.5 582.1 1190.5C581.9 1186.5 581.7 1182.4 581.5 1178.4C581.3 1174.3 581.1 1170.3 580.9 1166.2C580.7 1162.2 580.5 1158.1 580.4 1154C580.2 1150 580 1145.9 579.9 1141.8C579.7 1137.7 579.6 1133.7 579.4 1129.6C579.3 1125.5 579.2 1121.4 579 1117.3C578.9 1113.2 578.8 1109.1 578.7 1105C578.6 1100.9 578.5 1096.8 578.5 1092.7C578.4 1088.5 578.3 1084.4 578.3 1080.3C578.3 1076.2 578.3 1072 578.3 1067.9C578.3 1063.8 578.3 1059.7 578.4 1055.5C578.4 1051.4 578.5 1047.3 578.6 1043.2C578.8 1039 578.9 1034.9 579.1 1030.8C579.3 1026.7 579.6 1022.6 579.9 1018.6C580.2 1014.5 580.5 1010.4 580.9 1006.3C581.3 1002.3 581.7 998.2 582.2 994.2C582.7 990.2 583.2 986.2 583.9 982.2C584.5 978.2 585.1 974.2 585.9 970.2C586.6 966.3 587.4 962.3 588.3 958.4C589.2 954.5 590.1 950.6 591.1 946.8C592.2 942.9 593.2 939.1 594.4 935.2C595.6 931.4 596.9 927.7 598.2 923.9C599.6 920.2 601 916.4 602.5 912.8C604.1 909.1 605.7 905.4 607.4 901.8C609.1 898.2 611 894.6 612.9 891.1C614.8 887.5 616.8 884 618.9 880.6C621.1 877.1 623.3 873.7 625.7 870.3C628 867 630.5 863.6 633.1 860.4C635.6 857.2 638.3 854.1 641.1 851.1C643.9 848.1 646.8 845.2 649.8 842.4C652.8 839.7 656 837.1 659.2 834.8C662.5 832.4 665.8 830.2 669.3 828.2C672.7 826.3 676.3 824.5 680 823C683.7 821.4 687.4 820.1 691.3 819C695.1 817.8 699 816.9 703 816.1C706.9 815.3 710.9 814.7 714.9 814.2C719 813.8 723 813.5 727.1 813.3C731.1 813.1 735.2 813.1 739.3 813.2C743.3 813.3 747.4 813.5 751.5 813.8C755.6 814.2 759.7 814.7 763.7 815.3C767.8 815.9 771.8 816.6 775.9 817.4C779.9 818.2 783.9 819.2 787.9 820.2C791.9 821.3 795.9 822.4 799.8 823.7C803.7 824.9 807.6 826.2 811.5 827.7C815.3 829.1 819.2 830.6 822.9 832.2C826.7 833.8 830.4 835.5 834.1 837.3C837.7 839 841.4 840.9 844.9 842.8C848.5 844.7 852 846.7 855.4 848.7C858.9 850.8 862.3 852.9 865.7 855.1C869 857.2 872.4 859.4 875.7 861.7C879 864 882.2 866.3 885.5 868.6C888.7 871 891.9 873.4 895.1 875.8C898.3 878.2 901.4 880.7 904.5 883.2C907.7 885.7 910.8 888.2 913.9 890.7C917 893.3 920.1 895.8 923.2 898.4C926.3 900.9 929.4 903.5 932.5 906.1C935.6 908.7 938.7 911.3 941.8 913.9C944.9 916.5 948 919.1 951.1 921.6C954.3 924.2 957.4 926.8 960.5 929.4C963.7 931.9 966.8 934.5 970 937C973.2 939.6 976.4 942.1 979.5 944.7C982.7 947.2 985.9 949.7 989.1 952.2C992.3 954.8 995.5 957.3 998.8 959.8C1002 962.3 1005.2 964.8 1008.4 967.2C1011.7 969.7 1014.9 972.2 1018.1 974.7C1021.4 977.1 1024.6 979.6 1027.9 982.1C1031.1 984.5 1034.4 986.9 1037.7 989.4C1040.9 991.8 1044.2 994.2 1047.5 996.7C1050.7 999.1 1054 1001.5 1057.3 1003.9C1060.5 1006.3 1063.8 1008.7 1067.1 1011C1070.4 1013.4 1073.6 1015.8 1076.9 1018.2C1080.2 1020.5 1083.5 1022.9 1086.7 1025.2C1090 1027.5 1093.3 1029.9 1096.6 1032.2C1099.8 1034.5 1103.1 1036.8 1106.4 1039.2C1109.6 1041.5 1112.9 1043.8 1116 1046.2C1119.2 1048.5 1122.4 1050.9 1125.5 1053.4C1128.5 1055.8 1131.6 1058.3 1134.5 1060.9C1137.4 1063.5 1140.3 1066.2 1143 1069C1145.8 1071.8 1148.4 1074.7 1150.9 1077.7C1153.5 1080.7 1155.9 1083.8 1158.3 1086.9C1160.7 1090.1 1163 1093.3 1165.3 1096.5C1167.6 1099.8 1169.9 1103.1 1172.1 1106.5C1174.4 1109.8 1176.6 1113.2 1178.8 1116.6C1180.9 1120.1 1183.1 1123.5 1185.2 1127C1187.3 1130.5 1189.3 1134.1 1191.4 1137.6C1193.4 1141.2 1195.4 1144.8 1197.3 1148.4C1199.2 1152.1 1201.1 1155.7 1203 1159.4C1204.8 1163.1 1206.6 1166.8 1208.3 1170.5C1210 1174.2 1211.7 1178 1213.3 1181.8C1215 1185.6 1216.5 1189.3 1218 1193.2C1219.5 1197 1221 1200.8 1222.4 1204.6C1223.7 1208.5 1225.1 1212.3 1226.3 1216.2C1227.6 1220.1 1228.8 1224 1229.9 1227.9C1231 1231.8 1232.1 1235.7 1233.1 1239.6C1234.1 1243.5 1235.1 1247.4 1236 1251.4C1236.9 1255.3 1237.8 1259.3 1238.6 1263.2C1239.3 1267.2 1240.1 1271.2 1240.8 1275.2C1241.5 1279.1 1242.1 1283.1 1242.7 1287.1C1243.2 1291.1 1243.8 1295.1 1244.3 1299.1C1244.7 1303.2 1245.2 1307.2 1245.5 1311.2C1245.9 1315.2 1246.3 1319.3 1246.5 1323.3C1246.8 1327.3 1247.1 1331.4 1247.2 1335.4C1247.4 1339.4 1247.6 1343.5 1247.7 1347.5C1247.7 1351.6 1247.8 1355.6 1247.8 1359.7C1247.8 1363.7 1247.7 1367.8 1247.6 1371.8C1247.5 1375.9 1247.4 1379.9 1247.2 1384C1247 1388 1246.8 1392.1 1246.5 1396.1C1246.2 1400.2 1245.9 1404.2 1245.5 1408.3C1245.2 1412.3 1244.7 1416.3 1244.3 1420.4C1243.8 1424.4 1243.3 1428.4 1242.8 1432.5C1242.3 1436.5 1241.7 1440.5 1241 1444.5C1240.4 1448.5 1239.7 1452.5 1239 1456.5C1238.3 1460.5 1237.6 1464.5 1236.8 1468.5C1236 1472.5 1235.1 1476.5 1234.3 1480.4C1233.4 1484.4 1232.5 1488.4 1231.5 1492.3C1230.5 1496.3 1229.5 1500.2 1228.5 1504.1C1227.5 1508.1 1226.4 1512 1225.3 1515.9C1224.2 1519.8 1223 1523.7 1221.8 1527.5C1220.6 1531.4 1219.4 1535.3 1218.1 1539.1C1216.9 1543 1215.6 1546.8 1214.2 1550.6C1212.9 1554.4 1211.5 1558.2 1210.1 1562C1208.7 1565.8 1207.2 1569.6 1205.8 1573.3C1204.3 1577.1 1202.7 1580.8 1201.2 1584.5C1199.6 1588.2 1197.2 1593.7 1196.4 1595.6" stroke-width="2.4" fill="none"/>
<path d="M647.4 1551.3C647.2 1549.3 646.8 1543.1 646.6 1539C646.3 1534.9 646 1530.8 645.7 1526.8C645.5 1522.7 645.2 1518.6 644.9 1514.5C644.6 1510.4 644.4 1506.4 644.1 1502.3C643.8 1498.2 643.5 1494.2 643.2 1490.1C642.9 1486 642.7 1482 642.4 1477.9C642.1 1473.9 641.8 1469.8 641.5 1465.8C641.2 1461.8 640.9 1457.7 640.6 1453.7C640.3 1449.6 640 1445.6 639.7 1441.6C639.4 1437.5 639.2 1433.5 638.9 1429.5C638.6 1425.5 638.3 1421.4 638 1417.4C637.7 1413.4 637.4 1409.4 637.1 1405.4C636.8 1401.3 636.5 1397.3 636.2 1393.3C635.9 1389.3 635.6 1385.3 635.3 1381.3C635 1377.3 634.8 1373.2 634.5 1369.2C634.2 1365.2 633.9 1361.2 633.6 1357.2C633.3 1353.2 633 1349.2 632.7 1345.2C632.5 1341.2 632.2 1337.2 631.9 1333.2C631.6 1329.2 631.3 1325.2 631.1 1321.2C630.8 1317.2 630.5 1313.2 630.2 1309.2C630 1305.1 629.7 1301.1 629.4 1297.1C629.2 1293.1 628.9 1289.1 628.6 1285.1C628.4 1281.1 628.1 1277.1 627.9 1273.1C627.6 1269.1 627.3 1265.1 627.1 1261.1C626.8 1257 626.6 1253 626.4 1249C626.1 1245 625.9 1241 625.6 1236.9C625.4 1232.9 625.2 1228.9 625 1224.9C624.7 1220.8 624.5 1216.8 624.3 1212.8C624.1 1208.8 623.9 1204.7 623.6 1200.7C623.4 1196.6 623.2 1192.6 623 1188.6C622.8 1184.5 622.6 1180.5 622.4 1176.4C622.3 1172.4 622.1 1168.3 621.9 1164.3C621.7 1160.2 621.5 1156.1 621.4 1152.1C621.2 1148 621 1143.9 620.9 1139.9C620.7 1135.8 620.6 1131.7 620.4 1127.6C620.3 1123.5 620.2 1119.4 620 1115.3C619.9 1111.2 619.8 1107.1 619.7 1103C619.5 1098.9 619.4 1094.8 619.3 1090.7C619.2 1086.6 619.1 1082.5 619.1 1078.4C619 1074.2 619 1070.1 619 1066C618.9 1061.9 618.9 1057.8 619 1053.6C619 1049.5 619.1 1045.4 619.2 1041.3C619.4 1037.2 619.5 1033.1 619.7 1029.1C620 1025 620.2 1020.9 620.5 1016.9C620.9 1012.8 621.3 1008.8 621.7 1004.7C622.2 1000.7 622.7 996.7 623.2 992.7C623.8 988.7 624.5 984.8 625.2 980.8C626 976.9 626.8 972.9 627.7 969C628.6 965.1 629.6 961.3 630.7 957.4C631.8 953.6 633 949.7 634.3 946C635.5 942.2 636.9 938.4 638.4 934.7C639.9 931 641.6 927.3 643.3 923.6C645 919.9 646.9 916.3 648.8 912.8C650.8 909.2 652.9 905.7 655.1 902.3C657.3 898.8 659.6 895.5 662 892.2C664.5 889 667 885.8 669.7 882.8C672.3 879.8 675.1 876.9 678 874.2C680.9 871.4 683.9 868.8 687 866.4C690.1 864 693.3 861.7 696.7 859.6C700 857.6 703.4 855.7 707 854C710.5 852.4 714.2 850.9 718 849.7C721.7 848.5 725.6 847.5 729.6 846.7C733.5 846 737.6 845.4 741.7 845.1C745.7 844.8 749.9 844.6 754.1 844.7C758.3 844.7 762.5 844.9 766.7 845.3C770.9 845.7 775.1 846.3 779.3 847C783.5 847.6 787.6 848.5 791.7 849.4C795.8 850.4 799.9 851.5 803.9 852.7C807.9 853.9 811.8 855.2 815.6 856.6C819.5 858 823.2 859.5 827 861.1C830.7 862.7 834.3 864.4 838 866.2C841.6 867.9 845.1 869.8 848.6 871.7C852.1 873.6 855.6 875.6 859 877.7C862.5 879.7 865.8 881.9 869.2 884.1C872.5 886.2 875.8 888.5 879.1 890.8C882.4 893 885.7 895.4 888.9 897.8C892.1 900.1 895.3 902.5 898.5 905C901.7 907.4 904.9 909.9 908 912.4C911.2 914.8 914.4 917.4 917.5 919.9C920.7 922.4 923.8 924.9 926.9 927.4C930.1 930 933.2 932.5 936.4 935C939.5 937.6 942.7 940.1 945.9 942.6C949.1 945.1 952.2 947.6 955.4 950.1C958.6 952.5 961.9 955 965.1 957.4C968.3 959.9 971.5 962.3 974.8 964.7C978 967.2 981.3 969.6 984.5 972C987.8 974.4 991 976.8 994.3 979.2C997.5 981.6 1000.8 984 1004.1 986.4C1007.3 988.8 1010.6 991.2 1013.9 993.6C1017.1 996.1 1020.4 998.5 1023.6 1000.9C1026.9 1003.3 1030.1 1005.7 1033.3 1008.2C1036.6 1010.6 1039.8 1013.1 1043 1015.5C1046.2 1018 1049.4 1020.5 1052.6 1023C1055.8 1025.5 1059 1028 1062.2 1030.5C1065.3 1033 1068.5 1035.6 1071.6 1038.2C1074.7 1040.8 1077.8 1043.4 1080.9 1046C1084 1048.6 1087.1 1051.3 1090.1 1054C1093.2 1056.7 1096.2 1059.4 1099.2 1062.1C1102.2 1064.9 1105.1 1067.7 1108 1070.5C1111 1073.3 1113.9 1076.2 1116.8 1079.1C1119.6 1082 1122.5 1084.9 1125.3 1087.8C1128.1 1090.8 1130.9 1093.8 1133.6 1096.8C1136.3 1099.8 1139 1102.8 1141.7 1105.9C1144.4 1109 1147 1112.1 1149.6 1115.2C1152.2 1118.4 1154.7 1121.5 1157.2 1124.7C1159.7 1127.9 1162.2 1131.2 1164.6 1134.4C1167 1137.7 1169.3 1141 1171.7 1144.3C1174 1147.6 1176.2 1150.9 1178.5 1154.3C1180.7 1157.7 1182.9 1161.1 1185 1164.5C1187.1 1167.9 1189.2 1171.3 1191.2 1174.8C1193.2 1178.3 1195.1 1181.8 1197 1185.3C1198.9 1188.9 1200.8 1192.4 1202.5 1196C1204.3 1199.6 1206 1203.2 1207.7 1206.8C1209.4 1210.4 1211 1214.1 1212.5 1217.7C1214 1221.4 1215.5 1225.1 1216.9 1228.8C1218.3 1232.6 1219.7 1236.3 1220.9 1240.1C1222.2 1243.8 1223.4 1247.6 1224.5 1251.4C1225.7 1255.3 1226.7 1259.1 1227.7 1262.9C1228.7 1266.8 1229.6 1270.7 1230.4 1274.6C1231.3 1278.5 1232 1282.4 1232.7 1286.3C1233.4 1290.3 1234 1294.2 1234.5 1298.2C1235 1302.2 1235.5 1306.2 1235.9 1310.2C1236.2 1314.2 1236.5 1318.2 1236.7 1322.3C1237 1326.3 1237.1 1330.4 1237.2 1334.4C1237.3 1338.5 1237.3 1342.6 1237.2 1346.7C1237.1 1350.8 1237 1354.8 1236.8 1358.9C1236.6 1363 1236.4 1367.1 1236.1 1371.3C1235.8 1375.4 1235.4 1379.5 1235 1383.6C1234.5 1387.7 1234 1391.8 1233.5 1395.9C1233 1400 1232.4 1404.1 1231.7 1408.2C1231.1 1412.3 1230.4 1416.4 1229.6 1420.5C1228.9 1424.6 1228.1 1428.7 1227.2 1432.7C1226.4 1436.8 1225.5 1440.8 1224.6 1444.9C1223.7 1448.9 1222.7 1453 1221.7 1457C1220.7 1461 1219.6 1465 1218.6 1469C1217.5 1472.9 1216.4 1476.9 1215.2 1480.8C1214.1 1484.8 1212.9 1488.7 1211.7 1492.6C1210.5 1496.5 1209.2 1500.3 1208 1504.2C1206.7 1508 1205.4 1511.8 1204.1 1515.6C1202.8 1519.4 1201.4 1523.2 1200.1 1526.9C1198.7 1530.6 1197.3 1534.3 1196 1538C1194.6 1541.6 1193.2 1545.3 1191.9 1549C1190.6 1552.7 1189.3 1556.4 1188.1 1560.1C1187 1563.9 1185.8 1567.7 1184.8 1571.6C1183.9 1575.5 1182.7 1581.6 1182.3 1583.6" stroke-width="2.4" fill="none"/>
<path d="M688.5 1552.4C688.3 1550.4 687.7 1544.4 687.3 1540.4C686.9 1536.3 686.6 1532.3 686.3 1528.3C685.9 1524.3 685.6 1520.3 685.3 1516.2C685 1512.2 684.7 1508.2 684.4 1504.1C684.1 1500.1 683.9 1496 683.6 1492C683.3 1488 683.1 1483.9 682.9 1479.9C682.6 1475.8 682.4 1471.8 682.2 1467.7C681.9 1463.7 681.7 1459.6 681.5 1455.5C681.3 1451.5 681.1 1447.4 680.9 1443.4C680.7 1439.3 680.5 1435.2 680.3 1431.2C680.1 1427.1 679.9 1423.1 679.7 1419C679.5 1414.9 679.3 1410.9 679.1 1406.8C679 1402.7 678.8 1398.7 678.6 1394.6C678.4 1390.5 678.2 1386.5 678 1382.4C677.8 1378.3 677.6 1374.3 677.4 1370.2C677.2 1366.1 677 1362.1 676.7 1358C676.5 1353.9 676.3 1349.9 676 1345.8C675.8 1341.8 675.6 1337.7 675.3 1333.6C675.1 1329.6 674.8 1325.5 674.5 1321.5C674.2 1317.4 674 1313.4 673.7 1309.3C673.4 1305.3 673 1301.2 672.7 1297.2C672.4 1293.1 672 1289.1 671.7 1285.1C671.3 1281 671 1277 670.6 1273C670.2 1268.9 669.8 1264.9 669.4 1260.9C669 1256.8 668.6 1252.8 668.2 1248.8C667.8 1244.8 667.4 1240.7 667 1236.7C666.6 1232.7 666.2 1228.7 665.8 1224.7C665.4 1220.6 665 1216.6 664.6 1212.6C664.2 1208.6 663.8 1204.6 663.4 1200.6C663 1196.6 662.6 1192.5 662.2 1188.5C661.9 1184.5 661.5 1180.5 661.2 1176.5C660.8 1172.5 660.5 1168.5 660.2 1164.4C659.9 1160.4 659.6 1156.4 659.3 1152.4C659.1 1148.4 658.8 1144.4 658.6 1140.4C658.3 1136.3 658.1 1132.3 658 1128.3C657.8 1124.3 657.6 1120.3 657.5 1116.2C657.4 1112.2 657.3 1108.2 657.2 1104.2C657.2 1100.2 657.1 1096.1 657.1 1092.1C657.1 1088.1 657.2 1084 657.3 1080C657.3 1076 657.4 1071.9 657.6 1067.9C657.8 1063.8 658 1059.8 658.2 1055.8C658.5 1051.7 658.7 1047.7 659.1 1043.6C659.4 1039.6 659.8 1035.5 660.2 1031.4C660.7 1027.4 661.1 1023.3 661.7 1019.2C662.2 1015.2 662.8 1011.1 663.4 1007C664.1 1003 664.8 998.9 665.6 994.8C666.3 990.7 667.1 986.6 668 982.5C668.9 978.4 669.8 974.3 670.9 970.2C671.9 966.1 673 962 674.1 958C675.3 954 676.5 949.9 677.9 946C679.2 942 680.6 938.1 682.2 934.3C683.7 930.5 685.3 926.7 687.1 923C688.8 919.4 690.7 915.8 692.7 912.4C694.7 908.9 696.7 905.6 699 902.4C701.2 899.2 703.6 896.2 706.1 893.3C708.6 890.4 711.2 887.6 714 885.1C716.8 882.6 719.8 880.2 722.9 878C726 875.9 729.3 873.9 732.7 872.2C736.2 870.4 739.8 868.9 743.5 867.6C747.2 866.3 751.1 865.2 755.1 864.3C759 863.4 763 862.7 767.1 862.2C771.1 861.7 775.3 861.4 779.4 861.2C783.5 861.1 787.7 861.2 791.8 861.4C795.8 861.7 799.9 862.1 803.9 862.7C807.9 863.3 811.9 864.1 815.8 865C819.7 865.9 823.5 867 827.3 868.2C831.1 869.4 834.8 870.8 838.6 872.3C842.3 873.8 845.9 875.4 849.6 877.1C853.2 878.9 856.8 880.7 860.3 882.7C863.9 884.6 867.4 886.7 870.9 888.8C874.4 890.9 877.8 893.1 881.2 895.4C884.7 897.7 888.1 900.1 891.4 902.5C894.8 904.9 898.2 907.4 901.5 909.9C904.8 912.4 908.2 915 911.5 917.6C914.8 920.2 918.1 922.8 921.3 925.5C924.6 928.1 927.9 930.8 931.1 933.4C934.4 936.1 937.6 938.7 940.9 941.4C944.2 944 947.4 946.7 950.7 949.3C953.9 951.9 957.2 954.5 960.4 957.1C963.7 959.6 966.9 962.2 970.2 964.7C973.4 967.2 976.7 969.7 979.9 972.2C983.2 974.7 986.4 977.2 989.7 979.6C992.9 982.1 996.1 984.5 999.4 987C1002.6 989.4 1005.8 991.9 1009.1 994.3C1012.3 996.7 1015.5 999.1 1018.7 1001.6C1021.9 1004 1025.1 1006.4 1028.3 1008.8C1031.5 1011.2 1034.7 1013.6 1037.9 1016.1C1041.1 1018.5 1044.3 1020.9 1047.4 1023.3C1050.6 1025.8 1053.7 1028.2 1056.9 1030.6C1060 1033.1 1063.1 1035.5 1066.3 1038C1069.4 1040.5 1072.5 1043 1075.6 1045.5C1078.7 1048 1081.7 1050.5 1084.8 1053C1087.9 1055.5 1090.9 1058.1 1093.9 1060.7C1097 1063.3 1100 1065.8 1103 1068.5C1106 1071.1 1109 1073.7 1111.9 1076.4C1114.9 1079.1 1117.9 1081.8 1120.8 1084.5C1123.7 1087.3 1126.6 1090.1 1129.5 1092.9C1132.4 1095.7 1135.3 1098.5 1138.1 1101.4C1140.9 1104.3 1143.8 1107.2 1146.6 1110.1C1149.4 1113.1 1152.2 1116.1 1154.9 1119.1C1157.7 1122.2 1160.4 1125.3 1163.1 1128.4C1165.8 1131.5 1168.5 1134.7 1171.1 1138C1173.8 1141.2 1177.7 1146.2 1179 1147.8" stroke-width="1.8" fill="none"/>
<path d="M717.8 1544.1C717.7 1542 717.5 1535.7 717.3 1531.6C717.2 1527.4 717 1523.2 716.9 1519.1C716.7 1514.9 716.5 1510.7 716.3 1506.6C716.1 1502.4 716 1498.3 715.7 1494.2C715.5 1490 715.3 1485.9 715.1 1481.8C714.9 1477.7 714.7 1473.6 714.4 1469.5C714.2 1465.3 713.9 1461.2 713.7 1457.1C713.4 1453 713.2 1449 712.9 1444.9C712.7 1440.8 712.4 1436.7 712.1 1432.6C711.8 1428.5 711.6 1424.5 711.3 1420.4C711 1416.3 710.7 1412.2 710.4 1408.2C710.1 1404.1 709.8 1400.1 709.5 1396C709.2 1391.9 708.9 1387.9 708.6 1383.8C708.3 1379.8 708 1375.7 707.7 1371.7C707.4 1367.6 707.1 1363.6 706.7 1359.5C706.4 1355.5 706.1 1351.4 705.8 1347.4C705.5 1343.3 705.2 1339.3 704.8 1335.3C704.5 1331.2 704.2 1327.2 703.9 1323.1C703.6 1319.1 703.3 1315 702.9 1311C702.6 1307 702.3 1302.9 702 1298.9C701.7 1294.8 701.4 1290.8 701.1 1286.7C700.8 1282.7 700.4 1278.6 700.1 1274.6C699.8 1270.5 699.5 1266.5 699.2 1262.4C698.9 1258.4 698.6 1254.3 698.4 1250.3C698.1 1246.2 697.8 1242.1 697.5 1238.1C697.2 1234 697 1229.9 696.7 1225.9C696.4 1221.8 696.1 1217.7 695.9 1213.6C695.6 1209.6 695.4 1205.5 695.1 1201.4C694.9 1197.3 694.6 1193.2 694.4 1189.1C694.2 1185 694 1180.9 693.7 1176.8C693.5 1172.7 693.3 1168.6 693.1 1164.4C692.9 1160.3 692.7 1156.2 692.6 1152C692.4 1147.9 692.2 1143.8 692 1139.6C691.9 1135.5 691.7 1131.3 691.6 1127.2C691.4 1123 691.3 1118.8 691.2 1114.6C691.1 1110.5 691 1106.3 690.9 1102.1C690.8 1097.9 690.7 1093.7 690.6 1089.5C690.6 1085.3 690.5 1081.1 690.5 1076.8C690.5 1072.6 690.5 1068.4 690.5 1064.2C690.5 1060 690.6 1055.8 690.7 1051.6C690.8 1047.4 690.9 1043.2 691.1 1039C691.3 1034.8 691.5 1030.6 691.8 1026.5C692.1 1022.3 692.4 1018.2 692.8 1014C693.2 1009.9 693.7 1005.8 694.2 1001.7C694.7 997.6 695.3 993.6 695.9 989.5C696.6 985.5 697.3 981.5 698.1 977.5C698.9 973.5 699.8 969.6 700.8 965.7C701.7 961.8 702.8 957.9 703.9 954.1C705.1 950.2 706.3 946.4 707.7 942.7C709 938.9 710.4 935.2 712 931.6C713.6 927.9 715.2 924.3 717 920.8C718.8 917.3 720.7 913.9 722.7 910.5C724.8 907.1 726.9 903.8 729.2 900.6C731.6 897.4 734 894.2 736.6 891.2C739.2 888.1 741.9 885.2 744.8 882.3C747.7 879.5 750.7 876.7 754 874.1C757.2 871.4 760.6 868.9 764.1 866.5C767.7 864.1 773.4 860.8 775.3 859.6" stroke-width="2.4" fill="none"/>
<path d="M729.6 1500.4C729.5 1498.3 729.2 1492 729 1487.9C728.8 1483.7 728.6 1479.5 728.4 1475.4C728.1 1471.2 727.9 1467 727.7 1462.9C727.4 1458.8 727.2 1454.6 726.9 1450.5C726.7 1446.4 726.4 1442.2 726.2 1438.1C725.9 1434 725.6 1429.9 725.4 1425.8C725.1 1421.7 724.8 1417.6 724.5 1413.5C724.2 1409.4 723.9 1405.3 723.6 1401.3C723.3 1397.2 723 1393.1 722.7 1389C722.4 1385 722.1 1380.9 721.8 1376.9C721.5 1372.8 721.2 1368.7 720.9 1364.7C720.6 1360.6 720.3 1356.6 719.9 1352.5C719.6 1348.5 719.3 1344.5 719 1340.4C718.7 1336.4 718.4 1332.4 718 1328.3C717.7 1324.3 717.4 1320.3 717.1 1316.2C716.8 1312.2 716.5 1308.2 716.1 1304.2C715.8 1300.1 715.5 1296.1 715.2 1292.1C714.9 1288.1 714.6 1284 714.3 1280C714 1276 713.7 1272 713.4 1267.9C713.1 1263.9 712.8 1259.9 712.5 1255.9C712.2 1251.9 711.9 1247.8 711.6 1243.8C711.3 1239.8 711.1 1235.8 710.8 1231.7C710.5 1227.7 710.3 1223.7 710 1219.6C709.7 1215.6 709.5 1211.6 709.2 1207.5C709 1203.5 708.8 1199.5 708.5 1195.4C708.3 1191.4 708.1 1187.3 707.9 1183.3C707.7 1179.2 707.4 1175.2 707.3 1171.1C707.1 1167.1 706.9 1163 706.7 1159C706.5 1154.9 706.4 1150.8 706.2 1146.7C706 1142.7 705.9 1138.6 705.8 1134.5C705.6 1130.4 705.5 1126.3 705.4 1122.2C705.3 1118.1 705.2 1114 705.1 1109.9C705 1105.8 705 1101.7 704.9 1097.6C704.8 1093.4 704.8 1089.3 704.8 1085.2C704.7 1081 704.7 1076.9 704.7 1072.7C704.7 1068.6 704.7 1064.4 704.8 1060.2C704.8 1056.1 704.9 1051.9 704.9 1047.7C705 1043.5 705.1 1039.3 705.2 1035.1C705.3 1030.9 705.4 1026.7 705.6 1022.5C705.8 1018.3 706 1014.1 706.2 1009.9C706.5 1005.8 706.8 1001.6 707.2 997.4C707.6 993.3 708 989.1 708.5 985C709 980.9 709.5 976.7 710.2 972.7C710.8 968.6 711.6 964.5 712.4 960.5C713.2 956.5 714.1 952.5 715.1 948.5C716.1 944.6 717.1 940.7 718.4 936.8C719.6 932.9 720.9 929 722.3 925.3C723.7 921.5 725.3 917.8 726.9 914.2C728.6 910.5 730.4 907 732.4 903.6C734.4 900.2 736.5 896.9 738.8 893.8C741.1 890.6 743.5 887.6 746.1 884.8C748.7 882 751.5 879.4 754.5 876.9C757.5 874.5 760.7 872.3 764.1 870.3C767.5 868.4 771.1 866.6 774.9 865.1C778.7 863.7 782.7 862.4 787 861.5C791.3 860.6 798.3 860 800.5 859.7" stroke-width="2.4" fill="none"/>
<path d="M878.1 713C880 713.8 885.7 716.1 889.5 717.6C893.3 719.2 897 720.9 900.7 722.5C904.4 724.2 908.1 726 911.7 727.8C915.4 729.6 919 731.4 922.5 733.3C926.1 735.2 929.7 737.1 933.2 739.1C936.7 741 940.2 743.1 943.7 745.1C947.1 747.2 950.6 749.3 954 751.4C957.4 753.5 960.8 755.7 964.2 757.9C967.6 760.1 970.9 762.3 974.2 764.6C977.6 766.8 980.9 769.1 984.2 771.4C987.5 773.7 990.8 776.1 994 778.5C997.3 780.8 1000.6 783.2 1003.8 785.6C1007 788 1010.3 790.5 1013.5 792.9C1016.7 795.3 1019.9 797.8 1023.1 800.3C1026.3 802.8 1029.5 805.3 1032.7 807.8C1035.9 810.3 1039.1 812.8 1042.3 815.3C1045.4 817.8 1048.6 820.3 1051.8 822.9C1054.9 825.4 1058.1 827.9 1061.3 830.5C1064.5 833 1067.6 835.5 1070.8 838.1C1074 840.6 1077.2 843.2 1080.3 845.7C1083.5 848.2 1086.7 850.7 1089.9 853.3C1093.1 855.8 1096.3 858.3 1099.5 860.8C1102.7 863.3 1105.9 865.8 1109.2 868.2C1112.4 870.7 1115.6 873.2 1118.8 875.7C1122.1 878.1 1125.3 880.6 1128.5 883C1131.8 885.5 1135 888 1138.2 890.4C1141.5 892.9 1144.7 895.3 1147.9 897.8C1151.2 900.3 1154.4 902.7 1157.6 905.2C1160.8 907.7 1164 910.2 1167.2 912.7C1170.4 915.2 1173.6 917.7 1176.7 920.2C1179.9 922.7 1183 925.3 1186.2 927.8C1189.3 930.4 1192.4 932.9 1195.5 935.5C1198.6 938.1 1201.7 940.7 1204.7 943.3C1207.8 946 1210.8 948.6 1213.8 951.3C1216.8 954 1219.8 956.7 1222.8 959.4C1225.7 962.2 1228.6 964.9 1231.5 967.7C1234.4 970.5 1237.3 973.4 1240.1 976.2C1242.9 979.1 1245.7 982 1248.4 985C1251.2 987.9 1253.9 990.9 1256.6 993.9C1259.3 996.9 1261.9 999.9 1264.5 1003C1267.1 1006.1 1269.7 1009.2 1272.2 1012.3C1274.7 1015.5 1277.2 1018.6 1279.7 1021.8C1282.1 1025 1284.5 1028.3 1286.9 1031.5C1289.2 1034.8 1291.6 1038.1 1293.8 1041.4C1296.1 1044.7 1298.4 1048.1 1300.6 1051.5C1302.8 1054.8 1304.9 1058.2 1307.1 1061.7C1309.2 1065.1 1311.3 1068.5 1313.3 1072C1315.3 1075.5 1317.3 1079 1319.3 1082.5C1321.3 1086.1 1323.2 1089.6 1325.1 1093.2C1326.9 1096.8 1328.8 1100.4 1330.6 1104C1332.4 1107.6 1334.1 1111.2 1335.8 1114.9C1337.5 1118.6 1339.2 1122.3 1340.8 1126C1342.5 1129.7 1344.1 1133.4 1345.6 1137.1C1347.2 1140.9 1348.7 1144.6 1350.1 1148.4C1351.6 1152.2 1353 1156 1354.4 1159.8C1355.8 1163.6 1357.1 1167.4 1358.4 1171.3C1359.7 1175.1 1361 1179 1362.2 1182.8C1363.4 1186.7 1364.6 1190.6 1365.8 1194.5C1366.9 1198.4 1368 1202.3 1369 1206.2C1370.1 1210.1 1371.1 1214.1 1372.1 1218C1373.1 1222 1374 1225.9 1374.9 1229.9C1375.8 1233.9 1376.6 1237.9 1377.4 1241.8C1378.2 1245.8 1379 1249.8 1379.7 1253.8C1380.4 1257.8 1381.1 1261.9 1381.7 1265.9C1382.4 1269.9 1383 1273.9 1383.5 1277.9C1384.1 1282 1384.6 1286 1385.1 1290.1C1385.5 1294.1 1386 1298.1 1386.3 1302.2C1386.7 1306.2 1387.1 1310.3 1387.4 1314.4C1387.7 1318.4 1387.9 1322.5 1388.1 1326.5C1388.4 1330.6 1388.5 1334.7 1388.7 1338.7C1388.8 1342.8 1388.9 1346.8 1388.9 1350.9C1389 1355 1389 1359 1389 1363.1C1388.9 1367.1 1388.9 1371.2 1388.7 1375.3C1388.6 1379.3 1388.4 1383.4 1388.2 1387.4C1388 1391.5 1387.8 1395.5 1387.5 1399.5C1387.2 1403.6 1386.9 1407.6 1386.5 1411.6C1386.1 1415.7 1385.7 1419.7 1385.3 1423.7C1384.8 1427.7 1384.3 1431.7 1383.8 1435.7C1383.2 1439.8 1382.7 1443.8 1382.1 1447.8C1381.4 1451.7 1380.8 1455.7 1380.1 1459.7C1379.4 1463.7 1378.7 1467.7 1378 1471.7C1377.2 1475.6 1376.4 1479.6 1375.6 1483.5C1374.8 1487.5 1374 1491.5 1373.1 1495.4C1372.2 1499.4 1371.3 1503.3 1370.4 1507.2C1369.4 1511.2 1368.4 1515.1 1367.4 1519C1366.4 1522.9 1365.4 1526.8 1364.4 1530.7C1363.3 1534.6 1362.2 1538.5 1361.1 1542.4C1360 1546.3 1358.9 1550.2 1357.8 1554.1C1356.6 1558 1355.4 1561.8 1354.2 1565.7C1353 1569.6 1351.8 1573.4 1350.6 1577.3C1349.3 1581.1 1348.1 1585 1346.8 1588.8C1345.5 1592.6 1344.2 1596.4 1342.9 1600.3C1341.6 1604.1 1340.2 1607.9 1338.9 1611.7C1337.5 1615.5 1335.5 1621.1 1334.8 1623" stroke-width="1.8" fill="none"/>
<path d="M567.2 1517.9C568.6 1518.9 572.4 1521.5 575.3 1524C578.2 1526.5 581.2 1530.2 584.8 1532.8C588.4 1535.4 593.5 1538 597 1539.6C600.5 1541.2 602.7 1540.9 605.9 1542.3C609.1 1543.7 612.3 1546.2 616 1547.8C619.7 1549.4 624.2 1551 628.3 1551.8C632.4 1552.6 637.3 1552.6 640.5 1552.5C643.7 1552.4 644.1 1550.5 647.3 1551.2C650.5 1551.9 655.6 1555.6 659.5 1556.6C663.4 1557.6 666.3 1557.6 670.4 1557.3C674.5 1557 681.1 1555.3 684 1554.6C686.9 1553.9 686 1553.2 688 1553.2C690 1553.2 693 1555 696.2 1554.6C699.4 1554.1 703.6 1552.1 707 1550.5C710.4 1548.9 713.8 1546.6 716.5 1545C719.2 1543.4 721 1542.7 723.3 1541C725.6 1539.3 729 1535.9 730.1 1534.9" stroke-width="1.5" fill="none"/>
<path d="M1183.4 1584.3C1184.4 1585.9 1186.9 1592.1 1189.1 1594.1C1191.3 1596.1 1194 1594.6 1196.4 1596.5C1198.9 1598.4 1199.8 1602.5 1203.8 1605.5C1207.8 1608.5 1216.3 1613.1 1220.1 1614.4C1223.9 1615.8 1223.9 1612.4 1226.6 1613.6C1229.3 1614.8 1232.9 1619.6 1236.4 1621.8C1239.9 1624 1242.8 1625.8 1247.8 1626.6C1252.8 1627.4 1261.6 1625.8 1266.5 1626.6C1271.4 1627.4 1272.9 1630.4 1277.1 1631.5C1281.3 1632.6 1286.9 1633.5 1291.8 1633.2C1296.7 1632.9 1302.9 1630 1306.4 1629.9C1309.9 1629.8 1310.3 1632.4 1313 1632.4C1315.7 1632.4 1318.9 1631.4 1322.7 1629.9C1326.5 1628.4 1331.7 1626.1 1335.8 1623.4C1339.9 1620.7 1345.3 1615.2 1347.2 1613.6" stroke-width="1.5" fill="none"/>
<!-- 20_lower.py -->
<path d="M564.5 1500C565 1503 566 1507.7 567.2 1517.9C568.5 1528.1 570 1547.8 572 1561.1C574 1574.4 576 1585.2 579.3 1597.8C582.6 1610.4 586.3 1622.7 591.6 1636.9C596.9 1651.2 603.8 1667.8 611.1 1683.3C618.4 1698.8 626.6 1714.7 635.6 1729.8C644.6 1744.9 654.7 1759.5 664.9 1773.8C675.1 1788 684.9 1802.3 696.7 1815.3C708.5 1828.3 721.5 1840.5 735.8 1851.9C750 1863.3 762.8 1870.2 782.2 1883.7C801.6 1897.2 828.5 1918.5 852.1 1932.6C875.7 1946.7 911.8 1962.4 923.8 1968.4" stroke-width="1.6" fill="none"/>
<path d="M729.7 1500C729.9 1506.1 729.5 1525.3 730.9 1536.7C732.3 1548.1 734.5 1557 738.2 1568.4C741.9 1579.8 747.6 1593.3 752.9 1605.1C758.2 1616.9 763.1 1627.5 770 1639.3C776.9 1651.1 785.4 1664.6 794.4 1676C803.4 1687.4 813.6 1698 823.8 1707.8C834 1717.6 844.1 1726.2 855.5 1734.7C866.9 1743.2 880.8 1750.5 892.2 1759.1C903.6 1767.6 913.8 1776.6 924 1786C934.2 1795.4 946.2 1807.9 953.3 1815.3C960.3 1822.7 961.4 1825.3 966.3 1830.2C971.2 1835.1 976.9 1840.3 982.6 1844.9C988.3 1849.5 997.5 1855.7 1000.5 1857.9" stroke-width="1.6" fill="none"/>
<path d="M1183.4 1584C1181.1 1588.4 1175.2 1600 1169.6 1610.4C1164 1620.8 1154 1639.2 1150 1646.2C1146 1653.2 1150.3 1646.1 1145.5 1652.6C1140.7 1659.1 1130.3 1674.3 1121.1 1685.2C1111.9 1696.1 1099.1 1709.1 1090.1 1717.8C1081.1 1726.5 1071.1 1734 1067.3 1737.3" stroke-width="1.6" fill="none"/>
<path d="M1337.4 1623.4C1335.7 1627.7 1330.4 1640.9 1327.1 1649.3C1323.8 1657.7 1320.6 1665.6 1317.3 1673.8C1314 1682 1310.8 1691.2 1307.5 1698.2C1304.2 1705.2 1301 1710.1 1297.8 1715.8C1294.5 1721.5 1292.1 1724.8 1288 1732.4C1283.9 1740.1 1278.2 1752.7 1273.3 1761.7C1268.4 1770.7 1262.6 1779.8 1258.7 1786.2C1254.8 1792.6 1254.9 1791.8 1249.9 1800C1244.9 1808.2 1239.6 1819.4 1228.6 1835.2C1217.6 1851 1198.7 1874.1 1183.8 1895C1168.9 1915.9 1151.5 1941.8 1139 1960.7C1126.5 1979.6 1120.9 1990.8 1109.1 2008.5C1097.3 2026.2 1080 2048.2 1068 2067C1056 2085.8 1046.1 2104.8 1036.8 2121.6C1027.5 2138.4 1019 2154.9 1012 2168C1005 2181.1 1003.5 2183.3 994.8 2200C986 2216.7 969.9 2245.3 959.5 2267.9C949.1 2290.5 943.6 2308.6 932.3 2335.8C921 2363 902.9 2403.7 891.6 2430.9C880.3 2458.1 872.5 2476.2 864.4 2498.8C856.2 2521.4 849 2546.3 842.7 2566.7C836.4 2587.1 830.9 2607.9 826.4 2621C821.9 2634.1 817.3 2641.3 815.5 2645.4" stroke-width="1.6" fill="none"/>
<path d="M1067.3 1737.3C1064 1739.2 1053.8 1744.3 1047.8 1748.7C1041.8 1753.1 1035.6 1758.2 1031.5 1763.4C1027.4 1768.6 1025.2 1774.3 1023.3 1779.7C1021.4 1785.1 1021.2 1790.8 1020.1 1796C1019 1801.2 1018.7 1803.3 1016.8 1810.6C1014.9 1817.9 1011.2 1832.1 1008.7 1840C1006.2 1847.9 1004.3 1852.8 1002.1 1857.9C999.9 1863.1 998.9 1865.5 995.6 1870.9C992.4 1876.3 987.5 1884 982.6 1890.5C977.7 1897 971.8 1903.3 966.3 1910C960.8 1916.7 957 1920.7 949.9 1930.4C942.8 1940.1 932.9 1954.3 923.8 1968.4C914.7 1982.5 905.6 1998.6 895.5 2015.1C885.4 2031.6 872.4 2052.8 863 2067.3C853.6 2081.8 843.1 2096.2 839.1 2102" stroke-width="1.6" fill="none"/>
<path d="M808.6 2152C803.2 2161.1 786.2 2189.2 776 2206.3C765.8 2223.4 754.6 2240.9 747.6 2254.3C740.6 2267.7 739.5 2276.5 734.1 2286.9C728.7 2297.3 721.6 2308.3 715.1 2316.8C708.6 2325.3 701.1 2331.9 695 2338C688.9 2344.1 681.2 2350.8 678.4 2353.4" stroke-width="1.6" fill="none"/>
<path d="M839.1 2102C836.2 2100.7 827.9 2094.4 821.7 2094.4C815.5 2094.4 807.2 2097.1 802.1 2102C797 2106.9 792.8 2117.6 791.3 2123.8C789.8 2130 790.5 2134.3 793.4 2139C796.3 2143.7 806.1 2149.8 808.6 2152" stroke-width="2" fill="none"/>
<path d="M1185.5 1666.4C1187.8 1670.4 1195.4 1682.1 1199.3 1690.1C1203.2 1698.1 1206.9 1707.2 1209.1 1714.5C1211.3 1721.8 1212.3 1727.6 1212.3 1734.1C1212.3 1740.6 1211 1747.6 1209.1 1753.6C1207.2 1759.6 1204.7 1764.2 1200.9 1769.9C1197.1 1775.6 1191.5 1781.8 1186.3 1787.8C1181.1 1793.8 1175.4 1799.5 1170 1805.8C1164.6 1812 1159.7 1818.2 1153.7 1825.3C1147.7 1832.3 1140.9 1839.9 1134.1 1848.1C1127.3 1856.2 1118.6 1867.1 1112.9 1874.2C1107.2 1881.3 1104.5 1885.1 1099.9 1890.5C1095.3 1895.9 1090.3 1900.2 1085.2 1906.8C1080.1 1913.4 1077.5 1918.5 1069.4 1930C1061.3 1941.5 1047.7 1960.4 1036.8 1976C1025.9 1991.6 1015.1 2006.4 1004.2 2023.8C993.3 2041.2 982.5 2061.5 971.6 2080.3C960.7 2099.1 949.9 2118.3 939 2136.8C928.1 2155.3 912.5 2180.6 906.4 2191.1C900.3 2201.6 909.5 2186.8 902.5 2200C895.5 2213.2 876.6 2246.2 864.4 2270.6C852.2 2295 838.1 2324.5 829.1 2346.7C820.1 2368.9 816.9 2382.9 810.1 2403.7C803.3 2424.5 794.7 2451.2 788.4 2471.6C782.1 2492 777.5 2507.8 772.1 2525.9C766.7 2544 761.2 2559.4 755.8 2580.2C750.4 2601 742.2 2639 739.5 2650.8" stroke-width="1.6" fill="none"/>
<path d="M1185.5 1666.4C1181.5 1671.7 1169.8 1687.5 1161.8 1698.2C1153.8 1708.9 1145.6 1719.9 1137.4 1730.8C1129.2 1741.7 1119.7 1755.5 1112.9 1763.4C1106.1 1771.3 1102.6 1772.7 1096.6 1778.1C1090.6 1783.5 1082 1790.3 1077.1 1796C1072.2 1801.7 1069.8 1807.4 1067.3 1812.3C1064.8 1817.2 1064 1819.9 1062.4 1825.3C1060.8 1830.7 1059.4 1837.8 1057.5 1844.9C1055.6 1852 1052.9 1861.2 1051 1867.7C1049.1 1874.2 1048.5 1878 1046.1 1884C1043.7 1890 1039.9 1896.7 1036.4 1903.5C1032.9 1910.3 1030 1917.1 1025 1925C1020 1932.9 1009.5 1946.7 1006.4 1951" stroke-width="1.6" fill="none"/>
<path d="M1006.4 1951C1009.6 1950.7 1018.3 1951.2 1025.9 1948.9C1033.5 1946.6 1042.6 1942.5 1052 1936.9C1061.4 1931.3 1074.4 1922.1 1082.4 1915.2C1090.4 1908.3 1097.1 1898.9 1100 1895.6" stroke-width="2.5" fill="none"/>
<ellipse cx="1118.5" cy="1822" rx="27" ry="18" transform="rotate(-35 1118.5 1822)" stroke-width="2.5" fill="none"/>
<path d="M978.1 1958.6 L986.8 1967.3 L873.8 2147.7 L861.9 2141.2 L978.1 1958.6" stroke-width="1.6" fill="none"/>
<path d="M982.5 1962.5 L868 2144" stroke-width="1.3" fill="none"/>
<path d="M739.5 2390.1C744.5 2389.2 759.9 2387.4 769.4 2384.7C778.9 2382 788.4 2378.3 796.5 2373.8C804.6 2369.3 812.9 2362 818.3 2357.5C823.7 2353 827.3 2348.5 829.1 2346.7" stroke-width="2.5" fill="none"/>
<path d="M739.5 2390.1C735.9 2398.2 725.9 2420 717.8 2439C709.6 2458 698.8 2483.4 690.6 2504.2C682.5 2525 675.2 2546.8 668.9 2564C662.6 2581.2 656.2 2597 652.6 2607.4C649 2617.8 646.8 2620.1 647.2 2626.4C647.7 2632.7 651.7 2640.9 655.3 2645.4C658.9 2649.9 654.4 2650.4 668.9 2653.6C683.4 2656.8 720 2662.6 742.2 2664.4C764.4 2666.2 789.8 2667.6 802 2664.4C814.2 2661.2 813.2 2648.6 815.5 2645.4" stroke-width="1.6" fill="none"/>
<path d="M729 2396C725 2404.2 713.8 2425.7 705 2445C696.2 2464.3 684.3 2490.3 676 2512C667.7 2533.7 660.8 2557.7 655 2575C649.2 2592.3 644 2606.5 641 2616C638 2625.5 635.3 2626.7 637 2632C638.7 2637.3 648.7 2645.3 651 2648" stroke-width="1.4" fill="none"/>
<path d="M678.4 2353.4 L674.3 2364.3 L732 2392 L739.5 2390.1" stroke-width="1.6" fill="none"/>
<path d="M678.4 2353.4 L740 2388" stroke-width="1.6" fill="none"/>
<path d="M690 2377 L690 2388 L696 2395 L720 2407" stroke-width="1.6" fill="none"/>
<path d="M772.1 2525.9C769.4 2534.9 761.2 2559.4 755.8 2580.2C750.4 2601 742.2 2639 739.5 2650.8" stroke-width="3" fill="none"/>
<ellipse cx="855" cy="2410.5" rx="20" ry="31" transform="rotate(22 855 2410.5)" stroke-width="2.5" fill="none"/>
<path d="M846 2394 C838 2405 836 2420 842 2432" stroke-width="2" fill="none"/>
<path d="M851 2391 C845 2400 843 2412 846 2424" stroke-width="1.6" fill="none"/>
<ellipse cx="774.8" cy="2615.5" rx="21" ry="31" transform="rotate(22 774.8 2615.5)" stroke-width="2.5" fill="none"/>
<path d="M766 2600 C758 2610 756 2625 762 2637" stroke-width="2" fill="none"/>
<path d="M771 2596 C765 2605 763 2617 766 2629" stroke-width="1.6" fill="none"/>
<path d="M1011 1720C1007.8 1720.4 996.9 1720 991.7 1722.3C986.5 1724.5 983 1729.2 979.8 1733.5C976.6 1737.8 973.9 1744.1 972.3 1748.4C970.7 1752.7 970.2 1755.8 970.1 1759.5C970 1763.2 970.6 1767.6 971.6 1770.7C972.6 1773.8 974 1776.2 976 1778.1C978 1779.9 982.2 1781.2 983.5 1781.8" stroke-width="1.8" fill="none"/>
<path d="M1008 1722.3C1005.1 1723.7 995.6 1726.8 990.9 1730.5C986.2 1734.2 982.5 1739.8 979.8 1744.6C977.1 1749.4 975.4 1754.5 974.6 1759.5C973.9 1764.5 974.4 1770.4 975.3 1774.4C976.2 1778.4 978.2 1780.8 979.8 1783.3C981.4 1785.8 984.1 1788.3 985 1789.3" stroke-width="1.8" fill="none"/>
<path d="M1011 1723.8C1008.8 1725 1001.6 1727.8 997.6 1731.3C993.6 1734.8 989.8 1739.9 987.2 1744.6C984.6 1749.3 982.9 1754.5 982 1759.5C981.1 1764.5 981.4 1768.9 982 1774.4C982.6 1779.9 985.1 1789.3 985.7 1792.3" stroke-width="1.8" fill="none"/>
<path d="M1013.2 1723.8C1011.4 1725.2 1005.6 1728.3 1002.1 1732C998.6 1735.7 994.8 1741.3 992.4 1746.1C990 1750.9 988.5 1755.7 987.9 1761C987.3 1766.3 988.3 1772.8 988.7 1778.1C989.1 1783.4 990 1790.5 990.2 1793" stroke-width="1.8" fill="none"/>
<path d="M1019.2 1723.8C1017.1 1725.4 1010.2 1729.4 1006.5 1733.5C1002.8 1737.6 999.4 1743.5 996.9 1748.4C994.4 1753.4 992.8 1757.6 991.7 1763.2C990.6 1768.8 990.5 1778.7 990.2 1781.8" stroke-width="1.8" fill="none"/>
<path d="M1036.3 1729C1034.3 1729.9 1028.2 1731.8 1024.4 1734.2C1020.6 1736.6 1016.4 1739.6 1013.2 1743.2C1010 1746.8 1007.2 1750.6 1005.1 1755.8C1003 1761 1001.2 1768.2 1000.6 1774.4C1000 1780.6 1000.8 1787.4 1001.3 1793C1001.8 1798.6 1002.7 1804.6 1003.6 1807.9C1004.5 1811.2 1004.9 1812.1 1006.5 1813.1C1008.1 1814.1 1012.1 1813.7 1013.2 1813.8" stroke-width="2.2" fill="none"/>
<path d="M992.4 1722.3 L1002.1 1719.7 L1011.8 1719.7 L1014.7 1722.3 L1030.4 1720.8 L1036.3 1728.3 L1043.8 1729.8 L1047.5 1732.7" stroke-width="2.8" fill="none"/>
<path d="M1049.7 1726.8 L1087.6 1719.3 L1090.6 1718.6 L1100 1709.7" stroke-width="2.8" fill="none"/>
<path d="M1049.7 1726.8 L1049 1732.7 L1043 1735.7" stroke-width="2.2" fill="none"/>
<path d="M1048.2 1738.7 L1057.1 1744.6 L1068.3 1737.9 L1087.6 1722.3" stroke-width="1.6" fill="none"/>
<path d="M1050 1729 L1068.3 1737.9" stroke-width="1.4" fill="none"/>
<path d="M985 1789.3 L985 1793.8 L990.9 1794.5 L1003.6 1802.7 L1014.7 1810.1" stroke-width="2" fill="none"/>
<path d="M1005.8 1813.1 L1015.5 1815.3 L1014.7 1819 L1012.5 1830 L1008.7 1840" stroke-width="2.5" fill="none"/>
<!-- 25_rbracket.py -->
<ellipse cx="1402.6" cy="1955.3" rx="32.6" ry="45.6" transform="rotate(25 1402.6 1955.3)" stroke-width="3" fill="none"/>
<ellipse cx="1404.2" cy="1957" rx="27.7" ry="39" transform="rotate(25 1404.2 1957)" stroke-width="2.2" fill="none"/>
<path d="M1314.6 1847.8C1311.6 1850.5 1301.6 1857.3 1296.7 1864.1C1291.8 1870.9 1287.9 1880.3 1285.2 1888.5C1282.5 1896.7 1281.2 1906.8 1280.4 1913C1279.6 1919.2 1280.4 1923.8 1280.4 1926" stroke-width="2" fill="none"/>
<path d="M1345.5 1847.8C1341.4 1850 1327.9 1855.4 1321.1 1860.8C1314.3 1866.2 1308.6 1873.1 1304.8 1880.4C1301 1887.7 1299.6 1896.7 1298.3 1904.8C1297 1912.9 1296.4 1921 1296.7 1929.2C1297 1937.4 1297.2 1946.1 1299.9 1953.7C1302.6 1961.3 1309.5 1970.8 1313 1974.9C1316.5 1979 1319.8 1977.6 1321.1 1978.1" stroke-width="2.2" fill="none"/>
<path d="M1353.7 1864.1C1349.6 1865.4 1336 1867.3 1329.2 1872.2C1322.4 1877.1 1317.1 1885.2 1313 1893.4C1308.9 1901.6 1305.9 1911 1304.8 1921.1C1303.7 1931.1 1303.7 1944.2 1306.4 1953.7C1309.1 1963.2 1315.9 1972.7 1321.1 1978.1C1326.3 1983.5 1334.7 1984.9 1337.4 1986.3" stroke-width="1.8" fill="none"/>
<path d="M1361.8 1869C1357.7 1870.9 1343.9 1874.4 1337.4 1880.4C1330.9 1886.4 1325.4 1895.3 1322.7 1904.8C1320 1914.3 1320 1926.5 1321.1 1937.4C1322.2 1948.3 1326.5 1962.7 1329.2 1970C1331.9 1977.3 1336 1979.5 1337.4 1981.4" stroke-width="2.2" fill="none"/>
<path d="M1370 1880.4C1365.9 1882.3 1352 1885 1345.5 1891.8C1339 1898.6 1333.3 1910.8 1330.9 1921.1C1328.5 1931.4 1329.6 1943.7 1330.9 1953.7C1332.2 1963.8 1337.7 1976.8 1339 1981.4" stroke-width="2.6" fill="none"/>
<path d="M1381.4 1885.2C1376.8 1887.1 1361 1889.3 1353.7 1896.6C1346.4 1903.9 1340.4 1918.3 1337.4 1929.2C1334.4 1940.1 1335 1952.6 1335.8 1961.8C1336.6 1971 1341.2 1980.8 1342.3 1984.6" stroke-width="2.2" fill="none"/>
<path d="M1394.4 1898.3C1390.3 1899.7 1376.5 1901.2 1370 1906.4C1363.5 1911.6 1358.3 1920 1355.3 1929.2C1352.3 1938.4 1351.5 1951.5 1352.1 1961.8C1352.6 1972.1 1355.6 1985.2 1358.6 1991.2C1361.6 1997.2 1368.1 1996.6 1370 1997.7" stroke-width="2.6" fill="none"/>
<path d="M1286.9 1847.8 L1314.6 1847.8 L1334.1 1842.9 L1353.7 1847.8 L1370 1860.8 L1371.6 1867.3 L1386.3 1877.1 L1387.9 1882 L1404.2 1891.8 L1409.1 1906.4 L1427 1908.1 L1431.9 1919.5 L1433.5 1929.2" stroke-width="2.2" fill="none"/>
<path d="M1286.9 1847.8 L1286.9 1855.9 L1296.7 1862.4 L1314.6 1851" stroke-width="2" fill="none"/>
<path d="M1238 1821.7 L1247.8 1820 L1264.1 1816.8 L1272.2 1818.4 L1306.4 1841.2" stroke-width="2" fill="none"/>
<path d="M1241.2 1823.3C1238.8 1826.3 1230.1 1835 1226.6 1841.2C1223.1 1847.5 1221.5 1854.3 1220.1 1860.8C1218.7 1867.3 1217.9 1875 1218.4 1880.4C1218.9 1885.8 1222.5 1891.2 1223.3 1893.4" stroke-width="2.2" fill="none"/>
<path d="M1262.2 1879.8 L1263.8 1927.1" stroke-width="3" fill="none"/>
<path d="M1268.7 1876.6 L1270.4 1923.8" stroke-width="2" fill="none"/>
<path d="M1286.7 1848.9 L1286.7 1858.7 L1296.4 1863.5 L1316 1848.9" stroke-width="2" fill="none"/>
<path d="M1263.8 1927.1 L1293.2 1927.1 L1293.2 2020" stroke-width="2.5" fill="none"/>
<path d="M1293.2 1943.4 L1312.7 1974.4" stroke-width="1.6" fill="none"/>
<path d="M1192.1 1943.4C1192.4 1944.2 1190.2 1947.7 1193.8 1948.3C1197.3 1948.8 1206 1948 1213.3 1946.7C1220.7 1945.3 1229.6 1942.8 1237.8 1940.1C1245.9 1937.4 1253 1932.5 1262.2 1930.4C1271.4 1928.2 1288 1927.6 1293.2 1927.1" stroke-width="2.5" fill="none"/>
<path d="M1169.3 1964.6C1175.3 1963.2 1193.8 1958.6 1205.2 1956.4C1216.6 1954.3 1228 1953.2 1237.8 1951.5C1247.5 1949.9 1259.5 1947.5 1263.8 1946.7" stroke-width="3" fill="none"/>
<path d="M1169.3 1964.6 L1231.2 1979.2 L1293.2 1943.4" stroke-width="1.6" fill="none"/>
<path d="M1254.1 1953.2 L1254.1 1966.2" stroke-width="2" fill="none"/>
<path d="M1211.7 1990.6 L1263.8 1956.4" stroke-width="1.6" fill="none"/>
<path d="M1223.1 2000.4 L1289.9 1961.3" stroke-width="1.6" fill="none"/>
<path d="M1289.9 1961.3C1288.3 1964.3 1282 1973.5 1280.1 1979.2C1278.2 1984.9 1277.4 1989.6 1278.5 1995.5C1279.6 2001.5 1284.2 2011 1286.7 2015.1C1289.1 2019.2 1292.1 2019.2 1293.2 2020" stroke-width="1.6" fill="none"/>
<path d="M1149.8 1953.2C1154.9 1949.4 1170.1 1938.2 1180.7 1930.4C1191.3 1922.5 1203.3 1914.1 1213.3 1905.9C1223.4 1897.8 1233.2 1885.5 1241 1881.5C1248.9 1877.4 1257.3 1881.5 1260.6 1881.5" stroke-width="1.6" fill="none"/>
<path d="M1241 1868.4 L1244.3 1871.7 L1260.6 1878.2" stroke-width="2" fill="none"/>
<path d="M1208.4 1866.8 L1216.6 1873.3" stroke-width="1.4" fill="none"/>
<path d="M1219.8 2016.7C1220.4 2014.3 1220.1 2004.9 1223.1 2002.1C1226.1 1999.2 1232.6 1999.3 1237.8 1999.6C1242.9 1999.9 1248.1 2000.8 1254.1 2003.7C1260 2006.5 1270.1 2013.2 1273.6 2016.7C1277.1 2020.2 1276.1 2023 1275.2 2024.9C1274.4 2026.8 1270.4 2026.2 1268.7 2028.1C1267.1 2030 1266 2033.3 1265.5 2036.3C1264.9 2039.3 1265.5 2044.4 1265.5 2046" stroke-width="2.5" fill="none"/>
<path d="M1140 1990.6 L1219.8 2016.7" stroke-width="1.6" fill="none"/>
<path d="M1124.7 1981.9 L1404.2 2096" stroke-width="1.6" fill="none"/>
<path d="M1140 1956.4 L1213.3 1992.3" stroke-width="1.6" fill="none"/>
<path d="M1293.2 2020 L1410.5 2100" stroke-width="1.6" fill="none"/>
<path d="M1265.5 2046 L1358.3 2100" stroke-width="1.6" fill="none"/>
<path d="M1267.3 2044.6 L1366.2 2099" stroke-width="1.6" fill="none"/>
<path d="M1370 2099.8C1372.6 2099.2 1392.4 2094.3 1396.6 2094.1C1400.8 2093.9 1409.1 2096 1411.8 2097.9C1414.4 2099.8 1422.1 2110.6 1423.2 2113.1C1424.3 2115.6 1424.9 2113.1 1423.2 2122.6C1421.5 2132.1 1408.9 2198.1 1406.1 2208.1C1403.2 2218.2 1401.5 2218.8 1394.7 2223.3C1387.8 2227.9 1343.3 2250.7 1337.6 2253.8" stroke-width="2.2" fill="none"/>
<path d="M1370 2099.8 L1337.6 2253.8" stroke-width="3" fill="none"/>
<path d="M1362.4 2111.2 L1333.8 2234.8" stroke-width="3" fill="none"/>
<path d="M1360.5 2111.2C1357 2113.4 1344.9 2117.8 1339.5 2124.5C1334.2 2131.1 1331.9 2136.2 1328.1 2151.1C1324.3 2166 1318 2200.5 1316.7 2213.8C1315.5 2227.1 1317.7 2227.5 1320.5 2231C1323.4 2234.4 1331.6 2234.1 1333.8 2234.8" stroke-width="2.5" fill="none"/>
<path d="M1337.6 2253.8 L1223.6 2175.8" stroke-width="1.6" fill="none"/>
<path d="M1328.1 2118.8 L1267.3 2088.4" stroke-width="1.4" fill="none"/>
<ellipse cx="1288.2" cy="2154.9" rx="14" ry="20" transform="rotate(-10 1288.2 2154.9)" stroke-width="2.5" fill="none"/>
<path d="M1128.5 2056C1131.9 2055.2 1170.7 2039.7 1179.8 2042.7C1189 2045.8 1259.3 2097 1265.4 2101.7C1271.5 2106.4 1271.2 2111.1 1271.1 2113.1C1271 2115.1 1264.3 2128.8 1263.5 2132.1C1262.7 2135.4 1260.3 2160.1 1259.7 2162.5C1259.1 2164.9 1257 2167.3 1254 2168.2C1251 2169.1 1217.4 2175.4 1214.1 2175.8C1210.8 2176.2 1210.5 2177.6 1204.6 2173.9C1198.6 2170.2 1130.3 2125.2 1124.7 2120.7C1119.1 2116.1 1120.7 2107.2 1120.9 2105.5C1121.2 2103.7 1127.9 2097 1128.5 2094.1C1129.2 2091.2 1130.4 2064.3 1130.4 2061.7C1130.4 2059.2 1128.6 2056.4 1128.5 2056" stroke-width="2.5" fill="none"/>
<path d="M1136.1 2056C1145.4 2062.1 1219.8 2109.7 1229.3 2116.9C1238.8 2124.1 1231.9 2125.2 1231.2 2128.3C1230.4 2131.3 1222.8 2142.9 1221.7 2147.3C1220.5 2151.7 1220 2169.5 1219.8 2172" stroke-width="2.2" fill="none"/>
<path d="M1233.1 2118.8 L1265.4 2111.2" stroke-width="3" fill="none"/>
<path d="M1138 2071.3 L1168.4 2092.2 L1162.7 2132.1 L1157 2134 L1130.4 2116.9 L1138 2071.3" stroke-width="2.8" fill="none"/>
<path d="M1134.2 2111.2 L1166.5 2103.6" stroke-width="3" fill="none"/>
<path d="M1179.8 2097.9 L1212.2 2120.7 L1204.6 2162.5 L1200.8 2162.5 L1172.2 2143.5 L1179.8 2097.9" stroke-width="2.8" fill="none"/>
<path d="M1176 2139.7 L1210.3 2132.1" stroke-width="3" fill="none"/>
<path d="M1128.5 2061.7C1128.5 2058.9 1126.9 2048.8 1128.5 2044.6C1130.1 2040.5 1134.9 2038 1138 2037C1141.2 2036.1 1145.3 2037 1147.5 2038.9C1149.7 2040.8 1150.7 2046.9 1151.3 2048.4" stroke-width="2.2" fill="none"/>
<path d="M1100 2018 L1124.7 1981.9" stroke-width="1.6" fill="none"/>
<path d="M1100 2084.6 L1122.8 2099.8" stroke-width="1.6" fill="none"/>
<path d="M1141.8 2054.1 L1179.8 2042.7" stroke-width="1.6" fill="none"/>
<!-- 30_part1.py -->
<path d="M1475.2 1260C1475.8 1254.8 1477.1 1237.7 1479.1 1228.5C1481 1219.3 1483.6 1212.2 1486.9 1205C1490.2 1197.8 1494.1 1192.3 1498.7 1185.5C1503.3 1178.7 1509.8 1170.8 1514.3 1164C1518.8 1157.2 1523.1 1150.9 1526 1144.4C1528.9 1137.9 1530.9 1128.2 1531.9 1124.9" stroke-width="4" fill="none"/>
<path d="M1541.7 988C1543 984.1 1545.3 971.7 1549.5 964.5C1553.7 957.3 1559.9 950.9 1567.1 945C1574.3 939.1 1584.3 933.2 1592.5 929.3C1600.7 925.4 1608.8 923 1616 921.5C1623.2 920 1629 919.9 1635.5 920.5C1642 921.1 1647.9 922.6 1655.1 925.4C1662.3 928.2 1671.1 932 1678.6 937.2C1686.1 942.4 1693.6 949.5 1700.1 956.7C1706.6 963.9 1712.5 971.7 1717.7 980.2C1722.9 988.7 1727.5 998 1731.4 1007.5C1735.3 1017 1738.6 1027.1 1741.2 1036.9C1743.8 1046.7 1745.7 1056.4 1747 1066.2C1748.3 1076 1748.5 1084.1 1749 1095.5C1749.5 1106.9 1750 1124.9 1750 1134.7C1750 1144.5 1749.8 1144.4 1749 1154.2C1748.2 1164 1746.7 1180.3 1745.1 1193.3C1743.5 1206.3 1741.5 1220.5 1739.2 1232.4C1736.9 1244.4 1734 1257.4 1731.4 1265C1728.8 1272.6 1728.1 1267.9 1723.5 1278.2C1718.9 1288.5 1710.5 1310.8 1704 1327.1C1697.5 1343.4 1691.6 1360.7 1684.4 1376C1677.2 1391.3 1667.5 1406 1661 1419C1654.5 1432 1650.2 1445.1 1645.3 1454.2C1640.4 1463.3 1636.5 1465.7 1631.6 1473.8C1626.7 1481.9 1620.5 1494 1616 1503.1C1611.5 1512.2 1608.2 1522.3 1604.3 1528.5C1600.4 1534.7 1597.1 1538 1592.5 1540.3C1587.9 1542.6 1586 1544.2 1576.9 1542.2C1567.8 1540.2 1550.8 1534 1537.8 1528.5C1524.8 1523 1510.1 1515.5 1498.7 1509C1487.3 1502.5 1476.5 1495.3 1469.3 1489.4C1462.1 1483.5 1458.2 1478.7 1455.6 1473.8C1453 1468.9 1455 1465 1453.7 1460.1C1452.4 1455.2 1448.1 1450.3 1447.8 1444.4C1447.5 1438.5 1450.1 1431.4 1451.7 1424.9C1453.3 1418.4 1455.6 1416.7 1457.6 1405.3C1459.6 1393.9 1461.2 1374.3 1463.5 1356.4C1465.8 1338.5 1469.3 1313.9 1471.3 1297.8C1473.2 1281.7 1474.5 1266.3 1475.2 1260" stroke-width="4" fill="none"/>
<path d="M1573 947.9C1576.9 947.7 1587.6 945.8 1596.4 946.9C1605.2 948 1616 950.6 1625.8 954.8C1635.6 959 1646 965.1 1655.1 972.3C1664.2 979.5 1673.3 987.7 1680.5 997.8C1687.7 1007.9 1693.5 1020 1698.1 1033C1702.7 1046 1706.1 1062.3 1707.9 1076C1709.7 1089.7 1709.2 1101 1709 1115C1708.8 1129 1707.5 1145.8 1707 1160C1706.5 1174.2 1707.4 1190.1 1705.9 1200C1704.4 1209.9 1701.7 1213.1 1698.1 1219.6C1694.5 1226.1 1691.6 1233.2 1684.4 1239.1C1677.2 1245 1664.9 1249.3 1655.1 1254.8C1645.3 1260.3 1633.3 1266.8 1625.8 1272.3C1618.3 1277.8 1615 1281.8 1610.1 1288C1605.2 1294.2 1600.3 1301.3 1596.4 1309.5C1592.5 1317.7 1590 1325.8 1586.7 1336.9C1583.5 1348 1580.5 1361.3 1576.9 1376C1573.3 1390.7 1569 1410.2 1565.1 1424.9C1561.2 1439.6 1557 1452.6 1553.4 1464C1549.8 1475.4 1545.5 1483.8 1543.6 1493.3C1541.6 1502.8 1541.4 1514.2 1541.7 1520.7C1542 1527.2 1544.9 1530.5 1545.6 1532.4" stroke-width="2.5" fill="none"/>
<path d="M1557 970C1560.3 968.3 1568.8 961.8 1577 960C1585.2 958.2 1596.3 957.3 1606 959C1615.7 960.7 1625.2 964.3 1635 970C1644.8 975.7 1656.8 983.8 1665 993C1673.2 1002.2 1678.8 1013.2 1684 1025C1689.2 1036.8 1693.7 1052.3 1696 1064C1698.3 1075.7 1698.3 1084.8 1698 1095C1697.7 1105.2 1696.3 1117.5 1694 1125C1691.7 1132.5 1688.7 1135.8 1684 1140C1679.3 1144.2 1669 1148.3 1666 1150" stroke-width="2" fill="none"/>
<path d="M1678.6 1284.1C1677.9 1286.4 1680.2 1285.8 1674.7 1297.8C1669.2 1309.8 1655.1 1336.9 1645.3 1356.4C1635.5 1376 1627.4 1393.9 1616 1415.1C1604.6 1436.3 1587.7 1464.6 1576.9 1483.5C1566.2 1502.4 1551.5 1521.7 1551.5 1528.5C1551.5 1535.3 1570.1 1528.5 1576.9 1524.6C1583.7 1520.7 1586 1516.7 1592.5 1505C1599 1493.3 1607.2 1472.5 1616 1454.2C1624.8 1436 1635.5 1419.6 1645.3 1395.5C1655.1 1371.4 1669.2 1328.1 1674.7 1309.5C1680.2 1290.9 1677.9 1288.3 1678.6 1284.1" stroke-width="2.5" fill="none"/>
<path d="M1492.8 1021.2 L1492.8 1095.5 L1498.7 1103.4 L1514.3 1109.3 L1531.9 1121 L1549.5 1130.8 L1567.1 1140.5 L1586.7 1150.3 L1606.2 1160.1 L1616 1164" stroke-width="4" fill="none"/>
<path d="M1492.8 1021.2 L1498.7 1015.4 L1541.7 988 L1565.1 975.3" stroke-width="4" fill="none"/>
<path d="M1565.1 975.3 L1577 978 L1585 988 L1597 990 L1603 998 L1616 1002 L1622 1010 L1634 1012 L1638 1020 L1651 1024 L1655 1031 L1669 1033 L1682.5 1043" stroke-width="4" fill="none"/>
<path d="M1612.1 1093.6 L1682.5 1046.7 L1683.5 1134.7 L1616 1164 L1612.1 1162 L1612.1 1093.6" stroke-width="3" fill="none"/>
<ellipse cx="1656" cy="1105" rx="19" ry="25" transform="rotate(10 1656 1105)" stroke-width="3" fill="none"/>
<ellipse cx="1656" cy="1105" rx="13" ry="19" transform="rotate(10 1656 1105)" stroke-width="2.5" fill="none"/>
<path d="M1512.4 1048.6 L1592.5 1113.1 L1590.6 1122.9 L1518.2 1101.4 L1512.4 1087.7 L1516.3 1076 L1512.4 1048.6" stroke-width="3" fill="none"/>
<path d="M1501.5 1033.7 Q1502.5 1027.7 1509.5 1023.7 L1566.0 980.3" stroke-width="3.4" fill="none"/>
<path d="M1509.3 1038.1 Q1510.3 1032.1 1517.3 1028.1 L1574.6 985.2" stroke-width="3.4" fill="none"/>
<path d="M1517.1 1042.5 Q1518.1 1036.5 1525.1 1032.5 L1583.3 990.0" stroke-width="3.4" fill="none"/>
<path d="M1524.9 1046.9 Q1525.9 1040.9 1532.9 1036.9 L1591.9 994.9" stroke-width="3.4" fill="none"/>
<path d="M1532.7 1051.3 Q1533.7 1045.3 1540.7 1041.3 L1600.6 999.8" stroke-width="3.4" fill="none"/>
<path d="M1540.5 1055.7 Q1541.5 1049.7 1548.5 1045.7 L1609.2 1004.6" stroke-width="3.4" fill="none"/>
<path d="M1548.3 1060.1 Q1549.3 1054.1 1556.3 1050.1 L1617.8 1009.5" stroke-width="3.4" fill="none"/>
<path d="M1556.2 1064.6 Q1557.2 1058.6 1564.2 1054.6 L1626.5 1014.4" stroke-width="3.4" fill="none"/>
<path d="M1564.0 1069.0 Q1565.0 1063.0 1572.0 1059.0 L1635.1 1019.3" stroke-width="3.4" fill="none"/>
<path d="M1571.8 1073.4 Q1572.8 1067.4 1579.8 1063.4 L1643.7 1024.1" stroke-width="3.4" fill="none"/>
<path d="M1579.6 1077.8 Q1580.6 1071.8 1587.6 1067.8 L1652.4 1029.0" stroke-width="3.4" fill="none"/>
<path d="M1587.4 1082.2 Q1588.4 1076.2 1595.4 1072.2 L1661.0 1033.9" stroke-width="3.4" fill="none"/>
<path d="M1595.2 1086.6 Q1596.2 1080.6 1603.2 1076.6 L1669.7 1038.7" stroke-width="3.4" fill="none"/>
<path d="M1603.0 1091.0 Q1604.0 1085.0 1611.0 1081.0 L1678.3 1043.6" stroke-width="3.4" fill="none"/>
<path d="M1551.5 1140.5 L1616 1177.7 L1678.6 1212.9" stroke-width="2" fill="none"/>
<path d="M1750.9 1154.2 L1760.7 1181.6 L1778.3 1189.4 L1772.4 1199.2 L1750.9 1191.4" stroke-width="3" fill="none"/>
<path d="M1541.7 1188.4 L1623.8 1232.4 L1606.2 1278.2 L1588.6 1327.1 L1573 1366.2 L1557.3 1395.5 L1551.5 1409.3 L1475.2 1364.3 L1504.5 1258.7 L1528 1200 L1541.7 1188.4" stroke-width="4" fill="none"/>
<path d="M1545 1200 L1612 1236 L1590 1290 L1566 1350 L1548 1385 L1485 1347 L1510 1265 L1545 1200" stroke-width="2" fill="none"/>
<path d="M1516.3 1268.4 L1539.7 1256.7 L1573 1276.3 L1555.4 1286 L1516.3 1268.4" stroke-width="3" fill="none"/>
<path d="M1516.3 1268.4 L1500.6 1336.9 L1537.8 1360.3 L1553.4 1286" stroke-width="3" fill="none"/>
<path d="M1573 1276.3 L1552 1355 L1537.8 1360.3" stroke-width="2.5" fill="none"/>
<path d="M1549.5 1246.9 L1557.3 1231.3 L1580.8 1245 L1574.9 1260.6 L1549.5 1246.9" stroke-width="2.5" fill="none"/>
<path d="M1639.5 1477 L1646 1464 L1649.3 1466 L1643 1479" stroke-width="2" fill="none"/>
<text transform="translate(1505.5,1430.7) rotate(31) scale(1.24,1)" text-anchor="middle" dominant-baseline="central" font-family="Liberation Sans" font-weight="bold" font-style="italic" font-size="25" fill="#000" stroke="#000" stroke-width="1.4">STIHL</text>
<!-- 40_part2.py -->
<path d="M1797.4 1239C1799.6 1226.3 1806.4 1204.6 1812.6 1184.7C1818.8 1164.8 1829.2 1133.6 1834.3 1119.5C1839.4 1105.4 1839.4 1110.9 1843 1100C1846.6 1089.1 1852 1066.6 1856 1054.3C1860 1042 1860.7 1041.5 1866.9 1025.9C1873.1 1010.3 1884.3 980.6 1893 960.7C1901.7 940.8 1912.9 920.9 1919.1 906.4C1925.2 891.9 1927.7 890.1 1929.9 873.8C1932.1 857.5 1931.7 827.4 1932.1 808.6C1932.5 789.8 1930.6 772.8 1932.1 760.8C1933.5 748.8 1935.4 743.8 1940.8 736.9C1946.2 730 1955.3 724.3 1964.7 719.6C1974.1 714.9 1988.2 711.2 1997.3 708.7C2006.3 706.2 2011.9 705.1 2019 704.3C2026.1 703.5 2034.6 702.9 2040 704C2045.4 705.1 2044.2 705.4 2051.6 710.9C2059 716.4 2074.4 726 2084.2 736.9C2094 747.8 2102.3 762.2 2110.3 776C2118.3 789.8 2126.2 803.2 2132 819.5C2137.8 835.8 2142.1 855.7 2145 873.8C2147.9 891.9 2148 910 2149.4 928.1C2150.8 946.2 2153.3 969.7 2153.7 982.5C2154 995.3 2152.9 997.1 2151.5 1005C2150.1 1012.9 2148.2 1023.6 2145 1030C2141.8 1036.4 2138.5 1032.2 2132 1043.5C2125.5 1054.8 2115.7 1077.9 2105.9 1097.8C2096.1 1117.7 2083.4 1143.1 2073.3 1163C2063.2 1182.9 2052.3 1202.8 2045.1 1217.3C2037.9 1231.8 2034.2 1240.9 2029.9 1249.9C2025.6 1259 2022.6 1263.6 2019 1271.6C2015.4 1279.5 2013.5 1290.7 2008.1 1297.6C2002.7 1304.5 1993.6 1308.4 1986.4 1312.8C1979.2 1317.2 1970.1 1320.4 1964.7 1323.7C1959.3 1327 1957.4 1330.6 1953.8 1332.4C1950.2 1334.2 1952 1335.3 1943 1334.6C1934 1333.9 1914 1332.1 1899.5 1328.1C1885 1324.1 1869.4 1318 1856 1310.7C1842.6 1303.5 1828.5 1292.9 1819.1 1284.6C1809.7 1276.3 1803.2 1268.3 1799.6 1260.7C1796 1253.1 1795.2 1251.7 1797.4 1239Z" stroke-width="4" fill="none"/>
<path d="M2145 1008.7C2146.1 1010.9 2150.8 1015.9 2151.5 1021.7C2152.2 1027.5 2151.6 1035.2 2149.4 1043.5C2147.2 1051.8 2143.9 1059 2138.5 1071.7C2133.1 1084.4 2125.9 1100.7 2116.8 1119.5C2107.8 1138.3 2095.1 1163 2084.2 1184.7C2073.3 1206.4 2059.6 1235.4 2051.6 1249.9C2043.6 1264.4 2040.8 1266.5 2036.4 1271.6C2032.1 1276.7 2028.4 1278.5 2025.5 1280.3C2022.6 1282.1 2020.1 1282.1 2019 1282.5" stroke-width="3" fill="none"/>
<path d="M1807 1250C1809.2 1240 1814.2 1211.3 1820 1190C1825.8 1168.7 1835 1144 1842 1122C1849 1100 1857 1073.3 1862 1058C1867 1042.7 1866 1045.3 1872 1030C1878 1014.7 1889.3 985.7 1898 966C1906.7 946.3 1917.8 926.7 1924 912C1930.2 897.3 1932.8 895 1935 878C1937.2 861 1936.7 829.2 1937 810C1937.3 790.8 1935.5 774.5 1937 763C1938.5 751.5 1940.8 747.3 1946 741C1951.2 734.7 1959.3 729.5 1968 725C1976.7 720.5 1989.3 716.5 1998 714C2006.7 711.5 2011.7 709.7 2020 710C2028.3 710.3 2038 710.7 2048 716C2058 721.3 2070.5 731.3 2080 742C2089.5 752.7 2097.3 766.5 2105 780C2112.7 793.5 2120.3 807.2 2126 823C2131.7 838.8 2136.2 857.5 2139 875C2141.8 892.5 2141.7 910.2 2143 928C2144.3 945.8 2146.8 970 2147 982C2147.2 994 2144.5 997 2144 1000" stroke-width="1.5" fill="none"/>
<path d="M1813 1262C1815.5 1250.8 1821.8 1217.3 1828 1195C1834.2 1172.7 1845.3 1143.8 1850 1128C1854.7 1112.2 1851.4 1115.2 1856 1100C1860.6 1084.8 1869.8 1057.1 1877.8 1036.8C1885.8 1016.5 1895.1 997 1903.8 978.2C1912.5 959.4 1924.1 938.3 1929.9 923.8C1935.7 909.3 1936.6 906.8 1938.6 891.2C1940.6 875.6 1941.2 850.3 1941.9 830.4C1942.6 810.5 1941.4 785.5 1943 771.7C1944.6 757.9 1946.9 754.3 1951.6 747.8C1956.3 741.3 1963.6 736 1971.2 732.6C1978.8 729.2 1989.3 727.6 1997.3 727.2C2005.3 726.8 2010 727.3 2019 730.4C2028 733.5 2041.5 738 2051.6 745.6C2061.7 753.2 2072.2 763.3 2079.8 776C2087.4 788.7 2093.2 805.4 2097.2 821.7C2101.2 838 2102.2 854.2 2103.7 873.8C2105.1 893.3 2106.2 920.9 2105.9 939C2105.6 957.1 2103.4 969.8 2101.6 982.5C2099.8 995.2 2099.7 1001.3 2095 1015.1C2090.3 1028.9 2080.5 1049.6 2073.3 1065.2C2066.1 1080.8 2060.7 1090.5 2051.6 1108.6C2042.5 1126.7 2029.9 1152.1 2019 1173.8C2008.1 1195.5 1995.5 1218 1986.4 1239C1977.4 1260 1970.9 1286 1964.7 1299.8C1958.5 1313.6 1953.1 1317.2 1949.5 1321.6C1945.9 1325.9 1953.2 1327.3 1943 1325.9C1932.8 1324.5 1903.8 1318.5 1888.6 1313C1873.4 1307.5 1862.3 1299.3 1851.7 1293C1841.1 1286.7 1831.5 1280.2 1825 1275C1818.5 1269.8 1815 1264.2 1813 1262" stroke-width="3" fill="none"/>
<path d="M1947.3 771.7C1948.4 768.4 1950.2 757.9 1953.8 752.1C1957.4 746.3 1963.2 740.1 1969 736.9C1974.8 733.6 1982.1 732.8 1988.6 732.6C1995.1 732.4 1999.4 732.2 2008.1 735.8C2016.8 739.4 2030.9 746.5 2040.7 754.3C2050.5 762.1 2059.6 771.7 2066.8 782.6C2074.1 793.5 2079.8 806.1 2084.2 819.5C2088.5 832.9 2091.3 846.7 2092.9 863C2094.5 879.3 2094 901 2094 917.3C2094 933.6 2093.8 948.4 2092.9 960.7C2092 973 2089.2 986 2088.5 991.1" stroke-width="3" fill="none"/>
<path d="M1979.9 734.8C1980.3 743.5 1979.9 760.1 1982.1 786.9C1984.3 813.7 1990.4 872 1992.9 895.5C1995.4 919 1994.4 919 1997.3 928.1C2000.2 937.2 2003.1 943.4 2010.3 949.9C2017.5 956.4 2028.4 960.3 2040.7 967.2C2053 974.1 2076.9 987.1 2084.2 991.1" stroke-width="2" fill="none"/>
<path d="M1932.1 960.7C1935.7 960.2 1944.8 957.5 1953.8 957.5C1962.8 957.5 1977 958.5 1986.4 960.7C1995.8 962.9 2009.2 963.8 2010.3 970.5C2011.4 977.2 2005.2 1000.4 1992.9 1000.9C1980.6 1001.4 1946.5 980.5 1936.4 973.8C1926.3 967.1 1932.8 962.9 1932.1 960.7" stroke-width="3" fill="none"/>
<path d="M1837 1165C1838.3 1164.2 1839.5 1160.8 1845 1160C1850.5 1159.2 1860.8 1159 1870 1160C1879.2 1161 1892 1163.5 1900 1166C1908 1168.5 1915 1173.5 1918 1175" stroke-width="3.2" fill="none"/>
<path d="M1837 1165C1838.3 1166.2 1837.8 1167.8 1845 1172C1852.2 1176.2 1870 1184.7 1880 1190C1890 1195.3 1900.8 1201.7 1905 1204" stroke-width="3.2" fill="none"/>
<path d="M2006 973.8C2003.1 980.7 1997.3 994 1988.6 1015C1979.9 1036 1965.4 1071.3 1953.8 1100C1942.2 1128.7 1928.9 1164.4 1919.1 1186.9C1909.3 1209.4 1900.2 1222.5 1895 1235C1889.8 1247.5 1889.2 1257.5 1888 1262" stroke-width="3.5" fill="none"/>
<path d="M1969 993 L1921 1100 L1897 1156" stroke-width="2" fill="none"/>
<path d="M2010.3 970.5C2015.2 970.1 2032 965.6 2040 968C2048 970.4 2053.9 978.2 2058 985C2062.1 991.8 2063.5 1004.8 2064.6 1008.7" stroke-width="2" fill="none"/>
<path d="M2064.6 1008.7C2057 1025.3 2033.8 1077.5 2019 1108.6C2004.2 1139.7 1990 1166.5 1975.5 1195.5C1961 1224.5 1941.1 1265.1 1932.1 1282.5C1923 1299.9 1923 1296.9 1921.2 1299.8" stroke-width="2" fill="none"/>
<ellipse cx="2025.5" cy="1015" rx="9" ry="12" transform="rotate(0 2025.5 1015)" stroke-width="3" fill="none"/>
<ellipse cx="1914.7" cy="1247.7" rx="9" ry="12" transform="rotate(0 1914.7 1247.7)" stroke-width="3" fill="none"/>
<path d="M2062.4 1043.5 L1979.9 1210.8 L1992.9 1223.8 L2073.3 1060.8" stroke-width="2.5" fill="none"/>
<path d="M2068 1050 L1987 1215" stroke-width="1.5" fill="none"/>
<path d="M1857 1288 L1861 1254 L1885 1256 L1887 1270 L1880 1305" stroke-width="2.5" fill="none"/>
<path d="M1888 1272C1893.3 1273.3 1911.3 1278.3 1920 1280C1928.7 1281.7 1933.3 1282.3 1940 1282C1946.7 1281.7 1955.7 1278 1960 1278C1964.3 1278 1965 1281.3 1966 1282" stroke-width="2" fill="none"/>
<path d="M1817 1247 L1869 1217 L1880 1240" stroke-width="2" fill="none"/>
<path d="M1960 1242 L1963 1282" stroke-width="2" fill="none"/>
<!-- 50_part3_4.py -->
<path d="M2149.6 665.2C2150.4 655.7 2150.9 647.2 2154.4 640.7C2157.9 634.2 2164.4 628.8 2170.7 626.1C2176.9 623.4 2186.5 624.4 2191.9 624.4C2197.3 624.4 2197.3 623.4 2203.3 626.1C2209.3 628.8 2219.7 634.2 2227.8 640.7C2236 647.2 2245.4 657.6 2252.2 665.2C2259 672.8 2263.9 678.2 2268.5 686.4C2273.1 694.5 2277.2 705.4 2279.9 714.1C2282.6 722.8 2284 727.6 2284.8 738.5C2285.6 749.4 2285.1 767 2284.8 779.2C2284.5 791.4 2283.8 800.9 2283.2 811.8C2282.6 822.7 2283.1 838.1 2281.5 844.4C2279.9 850.6 2276.4 849.3 2273.4 849.3C2270.4 849.3 2273.9 849.8 2263.6 844.4C2253.3 839 2227 825.4 2211.5 816.7C2196 808 2179.7 798.3 2170.7 792.3C2161.7 786.3 2160.7 785.8 2157.7 780.9C2154.7 776 2153.9 771.3 2152.8 762.9C2151.7 754.5 2151.7 741.2 2151.2 730.4C2150.7 719.5 2149.9 708.7 2149.6 697.8C2149.3 686.9 2148.8 674.7 2149.6 665.2Z" stroke-width="3.5" fill="none"/>
<ellipse cx="2206.7" cy="1068.4" rx="6" ry="7" transform="rotate(0 2206.7 1068.4)" stroke-width="3.5" fill="none"/>
<ellipse cx="2217.5" cy="1071" rx="7" ry="12" transform="rotate(-10 2217.5 1071)" stroke-width="4" fill="none"/>
<ellipse cx="2222" cy="1073" rx="4" ry="9" transform="rotate(-10 2222 1073)" stroke-width="2" fill="none"/>
<ellipse cx="2232" cy="1077" rx="9" ry="14" transform="rotate(-10 2232 1077)" stroke-width="5" fill="#000"/>
<ellipse cx="2234" cy="1078" rx="4" ry="9" transform="rotate(-10 2234 1078)" stroke-width="2" fill="none"/>
<path d="M2236 1058 C2250 1052 2270 1055 2276 1068 L2278 1080 L2273 1083 C2275 1093 2266 1104 2253 1106 C2240 1108 2228 1100 2226 1090" stroke-width="3.5" fill="none"/>
<ellipse cx="2248" cy="1080" rx="17" ry="22" transform="rotate(-8 2248 1080)" stroke-width="3.5" fill="none"/>
<path d="M2265 1064 C2272 1072 2272 1090 2262 1102" stroke-width="3" fill="none"/>
<!-- 60_part5.py -->
<path d="M2560.2 1849.4C2557 1849.1 2550.7 1846.9 2541.2 1847.5C2531.7 1848.1 2515.9 1848.5 2503.2 1853.2C2490.5 1858 2477.9 1865.8 2465.2 1876C2452.5 1886.2 2439.8 1899.5 2427.1 1914.1C2414.4 1928.7 2401.8 1943.2 2389.1 1963.5C2376.4 1983.8 2361.9 2012.2 2351.1 2035.7C2340.3 2059.2 2333.4 2080.1 2324.5 2104.2C2315.6 2128.3 2303.6 2158 2297.9 2180.2C2292.2 2202.4 2290.9 2218.3 2290.3 2237.3C2289.7 2256.3 2292.2 2281.4 2294.1 2294.3C2296 2307.2 2297.7 2305.5 2301.5 2315C2305.3 2324.5 2312.3 2344.2 2316.9 2351.3C2321.5 2358.4 2323.6 2352.5 2329.3 2357.6C2335 2362.7 2344.2 2376.4 2351.1 2381.8C2358 2387.2 2361.5 2387.1 2371 2390C2380.5 2392.9 2396.6 2397.8 2408.1 2399C2419.6 2400.2 2428.8 2398.5 2440 2397C2451.2 2395.5 2462.7 2396.2 2475.1 2390C2487.5 2383.8 2502.9 2370.3 2514.6 2360C2526.2 2349.7 2534.2 2343.3 2545 2328C2555.8 2312.7 2569.2 2287.7 2579.3 2268C2589.5 2248.3 2596.4 2231 2605.9 2210C2615.4 2189 2624.9 2164.3 2636.3 2142.2C2647.7 2120.1 2661.6 2096.6 2674.3 2077.6C2687 2058.6 2699.6 2040.8 2712.3 2028.1C2725 2015.4 2737.6 2007.8 2750.3 2001.5C2763 1995.2 2780.2 1992 2788.4 1990.1C2796.7 1988.2 2797.9 1990.1 2799.8 1990.1" stroke-width="4" fill="none"/>
<path d="M2583 1868.4C2576 1869.7 2554.5 1871.5 2541.2 1876C2527.9 1880.5 2515.9 1885.6 2503.2 1895.1C2490.5 1904.6 2477.9 1917.3 2465.2 1933.1C2452.5 1948.9 2439.8 1967.9 2427.1 1990.1C2414.4 2012.3 2401.8 2037.7 2389.1 2066.2C2376.4 2094.7 2360 2135.8 2351.1 2161.2C2342.2 2186.5 2338.2 2201.8 2335.9 2218.3C2333.6 2234.8 2335.2 2248.9 2337 2260C2338.8 2271.1 2340.5 2274.8 2346.7 2284.7C2352.9 2294.6 2365.5 2311 2374.4 2319.4C2383.3 2327.8 2391.2 2331.1 2400 2335C2408.8 2338.9 2416.1 2342.2 2427 2343C2437.9 2343.8 2453.9 2343.4 2465.2 2339.9C2476.5 2336.4 2485.9 2330.3 2495 2322C2504.1 2313.7 2512.9 2302 2520 2290C2527.1 2278 2530.9 2263.2 2537.6 2250C2544.3 2236.8 2550.1 2231.8 2560.2 2210.7C2570.3 2189.6 2585.5 2148.5 2598.2 2123.2C2610.9 2097.8 2623.6 2077 2636.3 2058.6C2649 2040.2 2661.6 2025.6 2674.3 2012.9C2687 2000.2 2699.6 1989.2 2712.3 1982.5C2725 1975.8 2741.4 1974.6 2750.3 1973C2759.2 1971.4 2763 1973 2765.5 1973" stroke-width="2" fill="none"/>
<path d="M2560.2 1849.4 L2796 1986.3" stroke-width="4" fill="none"/>
<path d="M2796 1986.3C2799.7 1988.1 2811.7 1992.2 2818 1997C2824.3 2001.8 2830.2 2007.8 2834 2015C2837.8 2022.2 2839.4 2031.5 2841 2040C2842.6 2048.5 2843.1 2042.8 2843.5 2066.2C2843.9 2089.6 2843.8 2148.5 2843.5 2180.2C2843.2 2211.9 2844 2231.3 2841.6 2256.3C2839.2 2281.3 2835.4 2306.1 2829.3 2330C2823.2 2353.9 2814.8 2375 2805 2400C2795.2 2425 2784.8 2453.3 2770.3 2480C2755.8 2506.7 2735.6 2535 2718.2 2560C2700.8 2585 2681.7 2611.7 2666.1 2630C2650.5 2648.3 2638.9 2659.2 2624.4 2670C2609.9 2680.8 2592.6 2689.5 2579.3 2695C2566 2700.5 2556.2 2701.3 2544.6 2703C2533 2704.7 2521.5 2705.2 2509.9 2705C2498.3 2704.8 2492.5 2706.5 2475.1 2702C2457.7 2697.5 2434.6 2691.4 2405.7 2678C2376.8 2664.6 2331.6 2637.8 2301.5 2621.5C2271.4 2605.2 2240.1 2589.7 2225.1 2579.9C2210.1 2570.1 2213.6 2570 2211.3 2562.5C2209 2555 2207.8 2543.4 2211.3 2534.7C2214.8 2526 2224.6 2516.2 2232.1 2510.4C2239.6 2504.6 2252.3 2501.7 2256.4 2500" stroke-width="4" fill="none"/>
<path d="M2796 1993.9C2792.2 1993.9 2782.1 1992 2773.2 1993.9C2764.3 1995.8 2752.8 1999.6 2742.7 2005.3C2732.5 2011 2723.7 2016.7 2712.3 2028.1C2700.9 2039.5 2687 2056.1 2674.3 2073.8C2661.6 2091.6 2647.1 2113.7 2636.3 2134.6C2625.5 2155.5 2616 2184.6 2609.7 2199.2C2603.3 2213.8 2600.1 2218.2 2598.2 2222" stroke-width="3.5" fill="none"/>
<path d="M2598.2 2222C2601.8 2221.5 2613.7 2219.3 2620 2219C2626.3 2218.7 2630.4 2218.3 2636.3 2220.1C2642.2 2221.9 2645.8 2228.7 2655.3 2229.7C2664.8 2230.7 2680.6 2229.7 2693.3 2225.9C2706 2222.1 2718.6 2217.7 2731.3 2206.9C2744 2196.1 2759.2 2177 2769.4 2161.2C2779.6 2145.3 2787.1 2127.6 2792.2 2111.8C2797.3 2096 2798.5 2082.7 2799.8 2066.2C2801.1 2049.7 2800.4 2025 2799.8 2012.9C2799.2 2000.9 2796.6 1997.1 2796 1993.9" stroke-width="3.5" fill="none"/>
<path d="M2803.6 2085.2C2803.6 2101 2804.2 2145.3 2803.6 2180.2C2803 2215 2803.6 2259.5 2799.8 2294.3C2796 2329.2 2789.1 2357.6 2780.8 2389.3C2772.6 2421 2757.8 2462.6 2750.3 2484.4C2742.8 2506.2 2746.7 2499.1 2735.6 2520C2724.5 2540.9 2697.8 2589.2 2683.5 2610C2669.2 2630.8 2658.7 2637.5 2650 2645C2641.3 2652.5 2640.3 2651.7 2631.4 2655C2622.5 2658.3 2608.3 2662.5 2596.7 2665C2585.1 2667.5 2576.5 2669.2 2562 2670C2547.5 2670.8 2527.3 2671.3 2509.9 2670C2492.5 2668.7 2473.4 2666.3 2457.8 2662C2442.2 2657.7 2423.1 2647 2416.1 2644" stroke-width="2" fill="none"/>
<path d="M2416.1 2638.9C2390.1 2624.4 2288.2 2568.9 2259.9 2552.1C2231.6 2535.3 2247.8 2546.3 2246 2538.2C2244.2 2530.1 2248.8 2509.3 2249.4 2503.5" stroke-width="2" fill="none"/>
<path d="M2636.3 2225.9C2628.1 2246.8 2602.7 2314.6 2586.8 2351.3C2571 2388.1 2560.7 2406.6 2541.2 2446.4C2521.7 2486.2 2490.8 2557.9 2470 2590C2449.2 2622.1 2425.1 2630.8 2416.1 2638.9" stroke-width="2" fill="none"/>
<path d="M2598.2 2233.5C2590 2251.2 2564.6 2304.4 2548.8 2339.9C2533 2375.4 2518.4 2412.2 2503.2 2446.4C2488 2480.6 2472.3 2513 2457.8 2545.1C2443.3 2577.2 2423.1 2623.3 2416.1 2638.9" stroke-width="2" fill="none"/>
<path d="M2329.3 2357.6 L2256.4 2500" stroke-width="3" fill="none"/>
<text transform="translate(2614,2431) rotate(-63) scale(1.5,1)" text-anchor="middle" dominant-baseline="central" font-family="Liberation Sans" font-weight="bold" font-style="italic" font-size="76" fill="#000" stroke="none">STIHL</text>
<ellipse cx="2663" cy="2272" rx="8.5" ry="8.5" transform="rotate(0 2663 2272)" stroke-width="2" fill="none"/>
<!-- 70_part6.py -->
<path d="M1628.4 1861.2C1628.8 1859.2 1632.7 1849.3 1636.5 1842.2C1640.3 1835.1 1681.2 1761.8 1685.4 1755.3C1689.6 1748.8 1697 1745.4 1699 1744.4C1701 1743.4 1709.9 1738.2 1715.3 1740.4C1720.7 1742.6 1774.3 1773.3 1780.5 1777C1786.7 1780.7 1805.4 1793.8 1807.6 1796C1809.8 1798.2 1813.7 1806.5 1813 1809.6C1812.3 1812.7 1800.4 1835.9 1796.8 1842.2C1793.2 1848.5 1762 1899.6 1758.7 1904.7C1755.4 1909.8 1750.6 1917.2 1747.9 1918.3C1745.2 1919.4 1720.5 1921.2 1718 1921C1715.5 1920.8 1712.3 1916.8 1709.9 1915.5C1707.5 1914.2 1686.3 1904 1682.7 1902C1679.1 1900 1658.9 1887.7 1655.5 1885.7C1652.1 1883.7 1632.9 1873.7 1631.1 1872.1C1629.3 1870.5 1628 1863.2 1628.4 1861.2Z" stroke-width="4" fill="none"/>
<path d="M1754.7 1755.3C1755.1 1754.2 1757.2 1746.2 1758.7 1744.4C1760.2 1742.6 1767.1 1737.5 1769.6 1736.8C1772 1736.1 1774 1732.9 1783.2 1737.7C1792.4 1742.5 1851.7 1778.3 1862 1785.2C1872.3 1792.1 1883 1802 1886.4 1806.9C1889.8 1811.8 1895 1826.5 1895.9 1834.1C1896.9 1841.7 1896.6 1874 1895.9 1883C1895.2 1892 1891.9 1916.1 1889.1 1923.7C1886.2 1931.3 1870.1 1954.9 1867.4 1959C1864.7 1963.1 1866.1 1959 1862 1964.4C1857.9 1969.8 1834.2 2002.7 1826.6 2013.3C1819 2023.9 1790.2 2063.6 1785.9 2070.4C1781.6 2077.2 1787.3 2075.5 1783.2 2081.2C1779.1 2086.9 1751.7 2121.4 1745.2 2127.4C1738.7 2133.4 1722.6 2138.8 1718 2141C1713.4 2143.2 1704.2 2146.1 1699 2149.1C1693.8 2152.1 1671.3 2168.4 1666.4 2170.8C1661.5 2173.2 1656.6 2174.7 1650.1 2173.6C1643.6 2172.5 1612.1 2163 1601.2 2160C1590.3 2157 1550.2 2146.1 1541.5 2143.7C1532.8 2141.2 1520.5 2137.7 1514.3 2135.5C1508 2133.3 1482.8 2124.4 1479 2122C1475.2 2119.6 1475.8 2116 1476.3 2111.1C1476.8 2106.2 1484.1 2077.2 1484.4 2073.1C1484.7 2069 1478.5 2074.5 1479 2070.4C1479.5 2066.3 1486.4 2038.5 1489.9 2032.3C1493.4 2026 1509.1 2011.7 1514.3 2007.9C1519.5 2004.1 1537.2 1995.7 1541.5 1994.3C1545.8 1992.9 1554.5 1994.6 1557.8 1994.3C1561.1 1994 1570 1993.5 1574.1 1991.6C1578.2 1989.7 1594.7 1978.8 1598.5 1975.3C1602.3 1971.8 1610.5 1959.6 1612.1 1956.3C1613.7 1953 1613.7 1945.2 1614.8 1942.7C1615.9 1940.2 1620 1935.6 1623 1931.8C1626 1928 1641.7 1909.3 1644.7 1904.7C1647.7 1900.1 1652 1887.6 1652.8 1885.7" stroke-width="4" fill="none"/>
<path d="M1758.7 1749.9 L1862 1801.5 L1881 1823.2 L1886.4 1842.2" stroke-width="2" fill="none"/>
<path d="M1712.6 1994.3 L1804.9 1847.6 L1815.8 1846.3 L1859.2 1869.4 L1862 1877.5 L1769.6 2029.6 L1758.7 2033.7 L1715.3 2002.5 L1712.6 1994.3" stroke-width="4" fill="none"/>
<path d="M1751 2023 L1845 1873" stroke-width="2.5" fill="none"/>
<path d="M1767 1921 L1803 1938" stroke-width="3" fill="none"/>
<path d="M1770 1918 L1797 1882 L1806 1878 L1830 1890" stroke-width="2.5" fill="none"/>
<path d="M1625.7 2165.4C1627.5 2161.4 1651.2 2110.6 1652.8 2105.7C1654.4 2100.8 1651.7 2093.9 1650.1 2092.1C1648.5 2090.3 1630.9 2079 1628.4 2078.5C1625.9 2078 1613.9 2083.9 1612.1 2083.9C1610.3 2083.9 1601.7 2079.2 1601.2 2078.5C1600.7 2077.8 1602.4 2074 1603.9 2073.1C1605.4 2072.2 1618.7 2067.9 1623 2065C1627.3 2062.1 1661.9 2029.8 1669.1 2029.6C1676.3 2029.4 1726.9 2059.1 1731.6 2062.2C1736.3 2065.3 1739.8 2073.3 1739.8 2075.8C1739.8 2078.3 1734.3 2095.9 1731.6 2100.2C1728.9 2104.5 1703.3 2136.7 1699 2141C1694.7 2145.3 1671.3 2163.8 1666.4 2165.4C1661.5 2167 1628.4 2165.4 1625.7 2165.4C1623 2165.4 1623.9 2169.4 1625.7 2165.4Z" stroke-width="4" fill="none"/>
<path d="M1682 2046 L1725 2068 L1700 2100" stroke-width="2.5" fill="none"/>
<path d="M1665 2067 L1670 2078 L1706 2094" stroke-width="2.5" fill="none"/>
<path d="M1650 2163 L1712 2095" stroke-width="2.5" fill="none"/>
<path d="M1495.3 2094.8C1496.2 2088.9 1494.8 2072.6 1500.7 2059.5C1506.6 2046.4 1523.8 2023.7 1530.6 2016C1537.4 2008.3 1533.3 2016.5 1541.5 2013.3C1549.7 2010.1 1571.3 2001.5 1579.5 1997C1587.7 1992.5 1587.3 1989.9 1590.4 1986.2C1593.5 1982.5 1596.7 1976.9 1598 1975" stroke-width="3" fill="none"/>
<path d="M1495.3 2094.8C1495.8 2097.3 1493.2 2105.5 1498 2110C1502.8 2114.5 1517.8 2120 1524 2122C1530.2 2124 1530.3 2125.7 1535 2122C1539.7 2118.3 1543.2 2113.1 1552 2100C1560.8 2086.9 1581.3 2053.7 1587.6 2043.2C1593.9 2032.7 1591.1 2038.4 1590 2037C1588.9 2035.6 1582.5 2035.3 1581 2035" stroke-width="3" fill="none"/>
<path d="M1581 2035 L1617.5 2007.9 L1636.5 1978 L1682.7 1904.7" stroke-width="2" fill="none"/>
<path d="M1587.6 2043.2 L1549.6 2116.5" stroke-width="2" fill="none"/>
<path d="M1522 2125 L1520 2140" stroke-width="1.5" fill="none"/>
<path d="M1715.3 1915.5C1724.3 1900.1 1757.8 1844.5 1769.6 1823.2C1781.4 1801.9 1783.8 1795.4 1785.9 1787.9C1788 1780.4 1782.7 1779.7 1782 1778" stroke-width="2" fill="none"/>
<path d="M1732 1918C1741 1902.7 1776.3 1847.3 1786 1826C1795.7 1804.7 1789.8 1798.2 1790 1790C1790.2 1781.8 1787.5 1779.2 1787 1777" stroke-width="2" fill="none"/>
<path d="M1612.1 1942.7 L1620.2 1950.9 L1639.3 1959 L1642 1966 L1628 2000 L1580 2030" stroke-width="2.5" fill="none"/>
<!-- 90_labels.py -->
<path d="M1774 1423H1782.7V1463.5H1773.8V1437Q1769.5 1441 1764.1 1442.5V1433.5Q1771 1430.5 1774 1423Z" fill="#000" stroke="none"/>
<text x="2186.2" y="1239" font-family="Liberation Sans" font-weight="bold" font-size="58" fill="#000" stroke="none">2</text>
<text x="2381.2" y="851" font-family="Liberation Sans" font-weight="bold" font-size="58" fill="#000" stroke="none">3</text>
<text x="2380.3" y="1165.8" font-family="Liberation Sans" font-weight="bold" font-size="58" fill="#000" stroke="none">4</text>
<text x="2827.3" y="1884.5" font-family="Liberation Sans" font-weight="bold" font-size="58" fill="#000" stroke="none">5</text>
<text x="1951.6" y="2082.2" font-family="Liberation Sans" font-weight="bold" font-size="58" fill="#000" stroke="none">6</text>
<path d="M1681.5 1408.3 L1753 1448.5" stroke-width="4.5" fill="none"/>
<path d="M2099.4 1176 L2175.9 1219.7" stroke-width="4.5" fill="none"/>
<path d="M2299.5 789.8 L2368.7 830.6" stroke-width="4.5" fill="none"/>
<path d="M2290.4 1092.6 L2369.1 1138.5" stroke-width="4.5" fill="none"/>
<path d="M2732.5 1927.8 L2812.7 1880.9" stroke-width="4.5" fill="none"/>
<path d="M1851.1 2010.6 L1936.9 2059.8" stroke-width="4.5" fill="none"/>
<text transform="translate(2989,2702) rotate(-90)" font-family="Liberation Sans" font-size="32" textLength="189" lengthAdjust="spacingAndGlyphs" fill="#000" stroke="none">5902ET020 SC</text>
</svg>
</body></html>
